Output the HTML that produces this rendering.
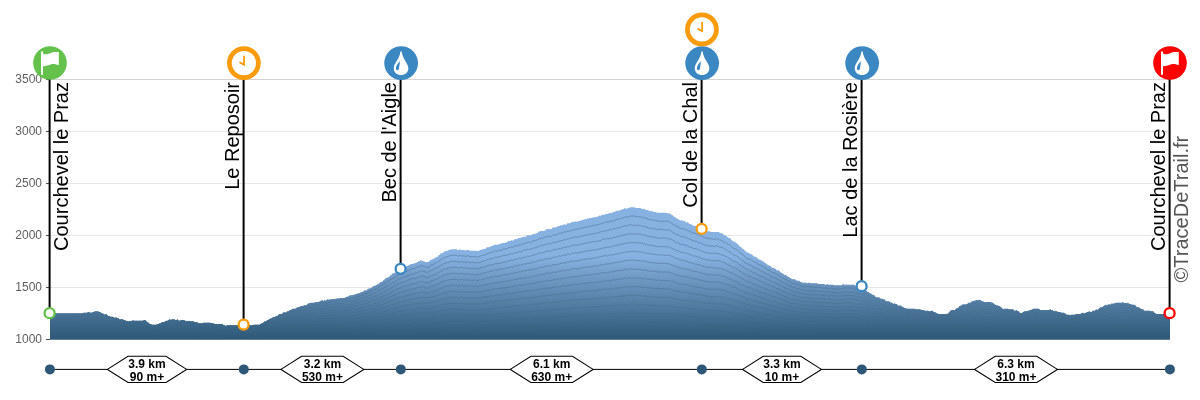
<!DOCTYPE html>
<html><head><meta charset="utf-8"><title>Profil</title>
<style>
html,body{margin:0;padding:0;background:#fff;}
body{width:1200px;height:400px;overflow:hidden;font-family:"Liberation Sans",sans-serif;}
svg{display:block;font-family:"Liberation Sans",sans-serif;opacity:.999;will-change:transform;}
.yl text{font-size:12px;fill:#5e5e5e;}
.lab{font-size:20px;fill:#000;}
.seg{font-size:12px;font-weight:bold;text-anchor:middle;fill:#000;}
.ct path{fill:none;stroke:#2b516f;stroke-opacity:.45;stroke-width:.8;}
</style></head><body>
<svg width="1200" height="400" viewBox="0 0 1200 400">
<defs>
<linearGradient id="g" gradientUnits="userSpaceOnUse" x1="0" y1="200" x2="0" y2="340">
<stop offset="0.0000" stop-color="#87b1e0"/>
<stop offset="0.4000" stop-color="#87b1e0"/>
<stop offset="0.5357" stop-color="#739dc8"/>
<stop offset="0.6786" stop-color="#5d87ae"/>
<stop offset="0.8214" stop-color="#487295"/>
<stop offset="0.9964" stop-color="#2e5876"/>
</linearGradient>
<linearGradient id="c" gradientUnits="userSpaceOnUse" x1="0" y1="200" x2="0" y2="340">
<stop offset="0.0000" stop-color="#87b1e0" stop-opacity="0"/>
<stop offset="0.4000" stop-color="#87b1e0" stop-opacity="0"/>
<stop offset="0.5357" stop-color="#739dc8" stop-opacity="0.12"/>
<stop offset="0.6786" stop-color="#5d87ae" stop-opacity="0.35"/>
<stop offset="0.8214" stop-color="#487295" stop-opacity="0.65"/>
<stop offset="0.9964" stop-color="#2e5876" stop-opacity="1"/>
</linearGradient>
</defs>
<rect width="1200" height="400" fill="#fff"/>
<g><line x1="50" x2="1170" y1="287.5" y2="287.5" stroke="#e6e6e6" stroke-width="1"/>
<line x1="50" x2="1170" y1="235.5" y2="235.5" stroke="#e6e6e6" stroke-width="1"/>
<line x1="50" x2="1170" y1="183.5" y2="183.5" stroke="#e6e6e6" stroke-width="1"/>
<line x1="50" x2="1170" y1="131.5" y2="131.5" stroke="#e6e6e6" stroke-width="1"/>
<line x1="50" x2="1170" y1="79.5" y2="79.5" stroke="#d4d4d4" stroke-width="1"/>
</g>
<g><line x1="46" x2="50" y1="339.5" y2="339.5" stroke="#555" stroke-width="1"/>
<line x1="46" x2="50" y1="287.5" y2="287.5" stroke="#555" stroke-width="1"/>
<line x1="46" x2="50" y1="235.5" y2="235.5" stroke="#555" stroke-width="1"/>
<line x1="46" x2="50" y1="183.5" y2="183.5" stroke="#555" stroke-width="1"/>
<line x1="46" x2="50" y1="131.5" y2="131.5" stroke="#555" stroke-width="1"/>
<line x1="46" x2="50" y1="79.5" y2="79.5" stroke="#555" stroke-width="1"/>
</g>
<g class="yl"><text x="42" y="342.9" text-anchor="end">1000</text>
<text x="42" y="290.9" text-anchor="end">1500</text>
<text x="42" y="238.9" text-anchor="end">2000</text>
<text x="42" y="186.9" text-anchor="end">2500</text>
<text x="42" y="134.9" text-anchor="end">3000</text>
<text x="42" y="82.9" text-anchor="end">3500</text>
</g>
<path d="M50,313.3L82.5,313.3L83.6,312.7L87,312.7L88.1,312L89.2,312L90.3,312.7L91.4,312.7L92.6,312L93.7,312L94.8,311.3L98.2,311.3L99.3,312L100.4,312L101.5,313.3L102.6,313.3L103.8,314L104.9,314.7L106,314L107.1,314.7L108.2,316L109.4,316L110.5,316.7L112.7,316.7L113.8,317.3L115,318L116.1,317.3L117.2,318L118.3,318L119.4,319.3L122.8,319.3L123.9,320L125,320L126.2,321.3L127.3,320.7L128.4,321.3L129.5,321.3L130.6,320.7L131.8,321.3L132.9,320L134,320.7L143,320.7L144.1,320L145.2,320L146.3,321.3L147.4,322L148.6,322.7L149.7,324L150.8,324L151.9,324.7L156.4,324.7L157.5,324L158.6,324L159.8,323.3L160.9,323.3L162,322L164.2,322L165.4,321.3L166.5,320.7L167.6,320.7L168.7,320L169.8,319.3L171,320L172.1,319.3L174.3,319.3L175.4,320L176.6,320L177.7,319.3L178.8,320.7L179.9,320.7L181,320L184.4,320L185.5,321.3L186.6,320.7L187.8,321.3L188.9,320.7L190,321.3L193.4,321.3L194.5,322L196.7,322L197.8,322.7L199,323.3L202.3,323.3L203.4,322.7L210.2,322.7L211.3,323.3L213.5,323.3L214.6,324L222.5,324L223.6,325.3L224.7,325.3L225.8,326L227,325.3L252.7,325.3L253.8,324.7L259.4,324.7L260.6,324L261.7,323.3L262.8,323.3L263.9,322L265,321.3L266.2,321.3L267.3,320L268.4,320L269.5,318.7L270.6,318.7L271.8,318L272.9,317.3L274,317.3L275.1,316.7L276.2,316L277.4,316L278.5,314.7L279.6,314L281.8,314L283,312.7L284.1,312L285.2,312.7L286.3,312L287.4,311.3L288.6,311.3L289.7,310L290.8,310L291.9,309.3L293,308.7L295.3,308.7L296.4,308L297.5,307.3L298.6,307.3L299.8,306.7L300.9,306L303.1,306L304.2,305.3L306.5,305.3L307.6,304L308.7,303.3L309.8,303.3L311,302.7L314.3,302.7L315.4,302L318.8,302L319.9,301.3L321,300.7L322.2,300L323.3,301.3L324.4,300L325.5,300.7L326.6,300L327.8,299.3L328.9,300L330,299.3L332.2,299.3L333.4,298.7L334.5,299.3L335.6,298.7L336.7,298.7L337.8,298L339,298.7L340.1,298L344.6,298L345.7,297.3L346.8,296.7L347.9,296.7L349,296L350.2,295.3L352.4,295.3L353.5,294.7L354.6,294.7L355.8,294L356.9,294L358,293.3L359.1,293.3L360.2,292.7L361.4,292L362.5,292L363.6,291.3L364.7,290L365.8,290.7L367,290L368.1,288.7L369.2,288.7L370.3,288L371.4,288L372.6,286.7L373.7,286L374.8,286L375.9,285.3L377,284.7L378.2,284L379.3,283.3L380.4,282L381.5,282L382.6,281.3L383.8,280L384.9,279.3L386,278L387.1,278L388.2,277.3L389.4,276.7L390.5,275.3L391.6,274.7L392.7,273.3L393.8,273.3L395,272.7L396.1,271.3L397.2,270.7L398.3,270L399.4,270L400.6,269.3L401.7,268.7L402.8,267.3L403.9,268L405,266.7L406.2,266.7L407.3,266L408.4,265.3L409.5,265.3L410.6,264L412.9,264L414,263.3L415.1,263.3L416.2,262.7L417.4,262L418.5,261.3L419.6,261.3L420.7,260L421.8,260.7L423,261.3L424.1,261.3L425.2,262L428.6,262L429.7,260.7L430.8,260L431.9,259.3L433,259.3L434.2,258.7L435.3,257.3L436.4,257.3L437.5,256.7L438.6,255.3L439.8,254.7L440.9,253.3L442,253.3L443.1,252.7L444.2,252L445.4,250.7L446.5,251.3L447.6,250.7L448.7,250L449.8,250L451,249.3L456.6,249.3L457.7,250L458.8,250L459.9,249.3L461,250L464.4,250L465.5,250.7L466.6,250L468.9,250L470,250.7L476.7,250.7L477.8,251.3L479,250.7L480.1,250L481.2,250L482.3,249.3L483.4,249.3L484.6,248.7L485.7,248.7L486.8,247.3L489,247.3L490.2,246.7L491.3,246L492.4,246L493.5,245.3L494.6,244.7L498,244.7L499.1,244L500.2,244L501.4,243.3L502.5,243.3L503.6,242.7L505.8,242.7L507,242L508.1,241.3L509.2,240.7L510.3,241.3L511.4,240L512.6,240.7L513.7,240L514.8,239.3L515.9,238.7L517,239.3L518.2,238L520.4,238L521.5,237.3L522.6,237.3L523.8,236.7L526,236.7L527.1,235.3L531.6,235.3L532.7,234L535,234L536.1,233.3L537.2,233.3L538.3,232L539.4,231.3L540.6,231.3L541.7,230.7L542.8,231.3L543.9,230.7L545,230.7L546.2,229.3L547.3,229.3L548.4,228.7L549.5,229.3L550.6,229.3L551.8,228.7L552.9,227.3L554,227.3L555.1,228L556.2,226.7L557.4,226.7L558.5,226L559.6,226L560.7,225.3L563,225.3L564.1,224L565.2,224.7L566.3,224.7L567.4,223.3L569.7,223.3L570.8,222.7L571.9,222L574.2,222L575.3,221.3L576.4,222L577.5,221.3L578.6,221.3L579.8,220.7L580.9,220.7L582,220L583.1,220L584.2,219.3L586.5,219.3L587.6,218L588.7,218.7L589.8,218L592.1,218L593.2,217.3L595.4,217.3L596.6,216.7L597.7,216.7L598.8,216L599.9,215.3L601,216L602.2,214.7L604.4,214.7L605.5,214L607.8,214L608.9,213.3L610,212.7L611.1,213.3L612.2,212.7L613.4,212L614.5,212L615.6,211.3L616.7,210.7L619,210.7L620.1,210L621.2,210L622.3,209.3L623.4,209.3L624.6,208L625.7,208.7L626.8,208.7L627.9,208L629,208L630.2,207.3L634.6,207.3L635.8,208L640.2,208L641.4,208.7L642.5,208.7L643.6,209.3L644.7,208.7L645.8,210L648.1,210L649.2,211.3L650.3,210.7L651.4,211.3L652.6,211.3L653.7,212L655.9,212L657,212.7L666,212.7L667.1,213.3L669.4,213.3L670.5,214L671.6,214.7L672.7,215.3L673.8,216.7L675,216.7L676.1,218L677.2,218.7L678.3,218.7L679.4,220L680.6,220.7L681.7,220L682.8,221.3L683.9,220.7L685,221.3L686.2,222.7L687.3,222L688.4,222.7L689.5,224L690.6,224L691.8,224.7L692.9,225.3L694,226L696.2,226L697.4,227.3L698.5,227.3L699.6,228L700.7,228L701.8,229.3L703,229.3L704.1,230L705.2,230.7L706.3,230.7L707.4,231.3L709.7,231.3L710.8,232L718.6,232L719.8,232.7L720.9,233.3L722,233.3L723.1,234L724.2,235.3L725.4,235.3L726.5,236L727.6,237.3L728.7,238L729.8,238L731,239.3L732.1,240.7L733.2,241.3L734.3,242L735.4,242L736.6,243.3L737.7,244L738.8,245.3L739.9,246.7L741,246.7L742.2,248.7L743.3,248.7L744.4,250L745.5,251.3L746.6,252L747.8,252.7L748.9,252.7L750,254L751.1,254L752.2,254.7L753.4,256L754.5,256.7L755.6,256.7L756.7,257.3L757.8,258.7L759,259.3L760.1,260L761.2,260L762.3,261.3L763.4,261.3L764.6,262.7L765.7,263.3L766.8,264L767.9,265.3L769,265.3L770.2,266L771.3,266.7L772.4,268L773.5,268L774.6,268.7L775.8,268.7L776.9,270.7L778,270L779.1,270.7L780.2,272L781.4,272.7L782.5,273.3L783.6,274L784.7,275.3L785.8,274.7L787,276L788.1,276.7L789.2,277.3L790.3,278L791.4,278.7L792.6,279.3L794.8,279.3L795.9,280L797,280.7L799.3,280.7L800.4,282L801.5,282L802.6,282.7L806,282.7L807.1,283.3L808.2,282.7L809.4,282.7L810.5,283.3L817.2,283.3L818.3,284L823.9,284L825,284.7L826.2,284.7L827.3,284L828.4,284.7L832.9,284.7L834,285.3L841.8,285.3L843,284L844.1,284.7L854.2,284.7L855.3,286L860.9,286L862,286.7L863.1,287.3L864.2,288.7L865.4,290L866.5,290.7L867.6,292L868.7,292L869.8,293.3L871,293.3L872.1,294.7L873.2,294.7L874.3,295.3L875.4,296.7L876.6,297.3L878.8,297.3L879.9,298L881,298.7L882.2,298.7L883.3,299.3L884.4,299.3L885.5,300.7L886.6,301.3L888.9,301.3L890,302L891.1,302.7L892.2,302.7L893.4,304L894.5,303.3L895.6,304L896.7,304L897.8,305.3L899,306L900.1,305.3L901.2,306L902.3,306.7L903.4,307.3L904.6,308L905.7,308L906.8,308.7L914.6,308.7L915.8,309.3L920.2,309.3L921.4,310L923.6,310L924.7,310.7L928.1,310.7L929.2,311.3L930.3,311.3L931.4,310.7L932.6,310.7L933.7,312L934.8,312L935.9,312.7L937,313.3L938.2,314L947.1,314L948.2,313.3L949.4,312L950.5,310.7L951.6,310L955,310L956.1,308.7L957.2,308L958.3,308L959.4,306L960.6,306L961.7,304.7L962.8,304.7L963.9,304L965,304.7L966.2,304L967.3,304L968.4,302.7L970.6,302.7L971.8,301.3L972.9,301.3L974,300.7L975.1,300.7L976.2,300L980.7,300L981.8,301.3L983,301.3L984.1,302L990.8,302L991.9,302.7L993,302.7L994.2,304L995.3,304.7L996.4,305.3L997.5,305.3L998.6,306L999.8,306L1000.9,307.3L1002,308L1003.1,309.3L1004.2,308.7L1007.6,308.7L1008.7,309.3L1013.2,309.3L1014.3,310.7L1015.4,310.7L1016.6,310L1017.7,311.3L1018.8,311.3L1019.9,312.7L1021,313.3L1022.2,312.7L1023.3,312L1024.4,311.3L1026.6,311.3L1027.8,310.7L1028.9,310.7L1030,310L1031.1,310L1032.2,309.3L1033.4,308.7L1039,308.7L1040.1,310L1049,310L1050.2,309.3L1051.3,310L1052.4,310L1053.5,311.3L1054.6,310.7L1055.8,311.3L1056.9,311.3L1058,312L1060.2,312L1061.4,312.7L1063.6,312.7L1064.7,313.3L1065.8,314L1067,314.7L1069.2,314.7L1070.3,315.3L1071.4,314.7L1074.8,314.7L1075.9,314L1080.4,314L1081.5,313.3L1082.6,312.7L1083.8,313.3L1084.9,313.3L1086,312.7L1087.1,312L1088.2,312L1089.4,311.3L1090.5,312L1091.6,312L1092.7,310.7L1095,310.7L1096.1,309.3L1097.2,310L1098.3,309.3L1099.4,308L1100.6,307.3L1101.7,307.3L1102.8,306.7L1103.9,306L1105,305.3L1106.2,305.3L1107.3,304.7L1108.4,304.7L1109.5,304L1110.6,304.7L1111.8,303.3L1112.9,304L1114,303.3L1115.1,303.3L1116.2,302.7L1121.8,302.7L1123,302L1124.1,303.3L1125.2,302.7L1126.3,303.3L1127.4,302.7L1128.6,303.3L1129.7,304L1130.8,304L1131.9,304.7L1134.2,304.7L1135.3,305.3L1136.4,306.7L1137.5,307.3L1138.6,307.3L1139.8,308L1140.9,308.7L1142,309.3L1143.1,309.3L1144.2,310.7L1149.8,310.7L1151,311.3L1153.2,311.3L1154.3,312.7L1155.4,313.3L1156.6,314L1170,314L1170,339.5L50,339.5Z" fill="url(#g)"/>
<g class="ct"><path d="M50,338L92.6,338L93.7,337.3L98.2,337.3L99.3,338L146.3,338L147.4,338.7L162,338.7L163.1,338L193.4,338L194.5,338.7L195.6,338L196.7,338.7L263.9,338.7L265,338L285.2,338L286.3,337.3L315.4,337.3L316.6,336.7L317.7,337.3L318.8,336.7L360.2,336.7L361.4,336L379.3,336L380.4,335.3L395,335.3L396.1,334.7L417.4,334.7L418.5,334L426.3,334L427.4,334.7L428.6,334L443.1,334L444.2,333.3L507,333.3L508.1,332.7L538.3,332.7L539.4,332L571.9,332L573,331.3L612.2,331.3L613.4,330.7L653.7,330.7L654.8,331.3L655.9,330.7L657,331.3L685,331.3L686.2,332L713,332L714.2,332.7L715.3,332L717.5,332L718.6,332.7L733.2,332.7L734.3,333.3L746.6,333.3L747.8,334L763.4,334L764.6,334.7L779.1,334.7L780.2,335.3L801.5,335.3L802.6,336L868.7,336L869.8,336.7L890,336.7L891.1,337.3L932.6,337.3L933.7,338L949.4,338L950.5,337.3L970.6,337.3L971.8,336.7L988.6,336.7L989.7,337.3L1018.8,337.3L1019.9,338L1022.2,338L1023.3,337.3L1058,337.3L1059.1,338L1088.2,338L1089.4,337.3L1153.2,337.3L1154.3,338L1170,338"/>
<path d="M50,336L107.1,336L108.2,336.7L125,336.7L126.2,337.3L127.3,336.7L128.4,337.3L129.5,337.3L130.6,336.7L131.8,337.3L132.9,336.7L145.2,336.7L146.3,337.3L167.6,337.3L168.7,336.7L184.4,336.7L185.5,337.3L186.6,336.7L187.8,337.3L266.2,337.3L267.3,336.7L277.4,336.7L278.5,336L288.6,336L289.7,335.3L303.1,335.3L304.2,334.7L319.9,334.7L321,334L322.2,334L323.3,334.7L324.4,334L349,334L350.2,333.3L363.6,333.3L364.7,332.7L374.8,332.7L375.9,332L382.6,332L383.8,331.3L389.4,331.3L390.5,330.7L396.1,330.7L397.2,330L406.2,330L407.3,329.3L419.6,329.3L420.7,328.7L421.8,328.7L423,329.3L429.7,329.3L430.8,328.7L437.5,328.7L438.6,328L446.5,328L447.6,327.3L470,327.3L471.1,328L472.2,327.3L473.4,328L474.5,327.3L475.6,327.3L476.7,328L477.8,328L479,327.3L492.4,327.3L493.5,326.7L510.3,326.7L511.4,326L526,326L527.1,325.3L542.8,325.3L543.9,324.7L559.6,324.7L560.7,324L579.8,324L580.9,323.3L598.8,323.3L599.9,322.7L616.7,322.7L617.8,322L619,322.7L620.1,322L648.1,322L649.2,322.7L650.3,322L651.4,322.7L672.7,322.7L673.8,323.3L681.7,323.3L682.8,324L692.9,324L694,324.7L705.2,324.7L706.3,325.3L725.4,325.3L726.5,326L732.1,326L733.2,326.7L738.8,326.7L739.9,327.3L744.4,327.3L745.5,328L752.2,328L753.4,328.7L761.2,328.7L762.3,329.3L769,329.3L770.2,330L778,330L779.1,330.7L785.8,330.7L787,331.3L798.2,331.3L799.3,332L854.2,332L855.3,332.7L865.4,332.7L866.5,333.3L874.3,333.3L875.4,334L885.5,334L886.6,334.7L897.8,334.7L899,335.3L900.1,334.7L901.2,335.3L924.7,335.3L925.8,336L927,335.3L928.1,336L949.4,336L950.5,335.3L960.6,335.3L961.7,334.7L975.1,334.7L976.2,334L980.7,334L981.8,334.7L997.5,334.7L998.6,335.3L1016.6,335.3L1017.7,336L1028.9,336L1030,335.3L1052.4,335.3L1053.5,336L1054.6,335.3L1055.8,336L1093.8,336L1095,335.3L1103.9,335.3L1105,334.7L1135.3,334.7L1136.4,335.3L1144.2,335.3L1145.4,336L1146.5,335.3L1147.6,336L1170,336"/>
<path d="M50,334L102.6,334L103.8,334.7L112.7,334.7L113.8,335.3L125,335.3L126.2,336L131.8,336L132.9,335.3L134,336L143,336L144.1,335.3L145.2,335.3L146.3,336L148.6,336L149.7,336.7L158.6,336.7L159.8,336L167.6,336L168.7,335.3L177.7,335.3L178.8,336L179.9,336L181,335.3L184.4,335.3L185.5,336L213.5,336L214.6,336.7L260.6,336.7L261.7,336L266.2,336L267.3,335.3L274,335.3L275.1,334.7L281.8,334.7L283,334L288.6,334L289.7,333.3L298.6,333.3L299.8,332.7L307.6,332.7L308.7,332L321,332L322.2,331.3L323.3,332L324.4,331.3L325.5,332L326.6,331.3L345.7,331.3L346.8,330.7L356.9,330.7L358,330L363.6,330L364.7,329.3L365.8,330L367,329.3L371.4,329.3L372.6,328.7L378.2,328.7L379.3,328L382.6,328L383.8,327.3L388.2,327.3L389.4,326.7L391.6,326.7L392.7,326L397.2,326L398.3,325.3L403.9,325.3L405,324.7L412.9,324.7L414,324L419.6,324L420.7,323.3L421.8,324L429.7,324L430.8,323.3L436.4,323.3L437.5,322.7L439.8,322.7L440.9,322L447.6,322L448.7,321.3L464.4,321.3L465.5,322L466.6,321.3L468.9,321.3L470,322L479,322L480.1,321.3L489,321.3L490.2,320.7L500.2,320.7L501.4,320L510.3,320L511.4,319.3L512.6,320L513.7,319.3L522.6,319.3L523.8,318.7L535,318.7L536.1,318L545,318L546.2,317.3L555.1,317.3L556.2,316.7L566.3,316.7L567.4,316L580.9,316L582,315.3L595.4,315.3L596.6,314.7L607.8,314.7L608.9,314L619,314L620.1,313.3L648.1,313.3L649.2,314L669.4,314L670.5,314.7L675,314.7L676.1,315.3L679.4,315.3L680.6,316L681.7,315.3L682.8,316L688.4,316L689.5,316.7L696.2,316.7L697.4,317.3L704.1,317.3L705.2,318L722,318L723.1,318.7L726.5,318.7L727.6,319.3L731,319.3L732.1,320L736.6,320L737.7,320.7L741,320.7L742.2,321.3L744.4,321.3L745.5,322L748.9,322L750,322.7L755.6,322.7L756.7,323.3L761.2,323.3L762.3,324L765.7,324L766.8,324.7L771.3,324.7L772.4,325.3L775.8,325.3L776.9,326L778,325.3L779.1,326L782.5,326L783.6,326.7L788.1,326.7L789.2,327.3L795.9,327.3L797,328L817.2,328L818.3,328.7L862,328.7L863.1,329.3L865.4,329.3L866.5,330L871,330L872.1,330.7L875.4,330.7L876.6,331.3L884.4,331.3L885.5,332L892.2,332L893.4,332.7L894.5,332L895.6,332.7L902.3,332.7L903.4,333.3L923.6,333.3L924.7,334L937,334L938.2,334.7L947.1,334.7L948.2,334L950.5,334L951.6,333.3L958.3,333.3L959.4,332.7L967.3,332.7L968.4,332L975.1,332L976.2,331.3L980.7,331.3L981.8,332L993,332L994.2,332.7L999.8,332.7L1000.9,333.3L1013.2,333.3L1014.3,334L1015.4,334L1016.6,333.3L1017.7,334L1028.9,334L1030,333.3L1052.4,333.3L1053.5,334L1064.7,334L1065.8,334.7L1080.4,334.7L1081.5,334L1095,334L1096.1,333.3L1101.7,333.3L1102.8,332.7L1110.6,332.7L1111.8,332L1112.9,332.7L1114,332L1128.6,332L1129.7,332.7L1136.4,332.7L1137.5,333.3L1143.1,333.3L1144.2,334L1155.4,334L1156.6,334.7L1170,334.7"/>
<path d="M50,332.7L82.5,332.7L83.6,332L89.2,332L90.3,332.7L91.4,332L100.4,332L101.5,332.7L107.1,332.7L108.2,333.3L113.8,333.3L115,334L116.1,333.3L117.2,334L125,334L126.2,334.7L148.6,334.7L149.7,335.3L160.9,335.3L162,334.7L167.6,334.7L168.7,334L175.4,334L176.6,334.7L177.7,334L178.8,334.7L182.2,334.7L183.3,334L184.4,334.7L196.7,334.7L197.8,335.3L203.4,335.3L204.6,334.7L205.7,335.3L206.8,335.3L207.9,334.7L209,335.3L222.5,335.3L223.6,336L248.2,336L249.4,335.3L262.8,335.3L263.9,334.7L266.2,334.7L267.3,334L268.4,334.7L269.5,334L271.8,334L272.9,333.3L277.4,333.3L278.5,332.7L283,332.7L284.1,332L289.7,332L290.8,331.3L296.4,331.3L297.5,330.7L304.2,330.7L305.4,330L311,330L312.1,329.3L323.3,329.3L324.4,328.7L325.5,329.3L326.6,328.7L344.6,328.7L345.7,328L352.4,328L353.5,327.3L360.2,327.3L361.4,326.7L365.8,326.7L367,326L371.4,326L372.6,325.3L375.9,325.3L377,324.7L379.3,324.7L380.4,324L382.6,324L383.8,323.3L387.1,323.3L388.2,322.7L390.5,322.7L391.6,322L395,322L396.1,321.3L398.3,321.3L399.4,320.7L401.7,320.7L402.8,320L403.9,320.7L405,320L409.5,320L410.6,319.3L415.1,319.3L416.2,318.7L419.6,318.7L420.7,318L421.8,318.7L429.7,318.7L430.8,318L434.2,318L435.3,317.3L438.6,317.3L439.8,316.7L442,316.7L443.1,316L447.6,316L448.7,315.3L463.3,315.3L464.4,316L481.2,316L482.3,315.3L486.8,315.3L487.9,314.7L493.5,314.7L494.6,314L502.5,314L503.6,313.3L504.7,314L505.8,313.3L513.7,313.3L514.8,312.7L520.4,312.7L521.5,312L531.6,312L532.7,311.3L537.2,311.3L538.3,310.7L545,310.7L546.2,310L551.8,310L552.9,309.3L554,309.3L555.1,310L556.2,309.3L561.8,309.3L563,308.7L570.8,308.7L571.9,308L580.9,308L582,307.3L592.1,307.3L593.2,306.7L601,306.7L602.2,306L611.1,306L612.2,305.3L619,305.3L620.1,304.7L629,304.7L630.2,304L634.6,304L635.8,304.7L645.8,304.7L647,305.3L648.1,304.7L649.2,305.3L655.9,305.3L657,306L658.2,305.3L659.3,306L671.6,306L672.7,306.7L675,306.7L676.1,307.3L678.3,307.3L679.4,308L680.6,308L681.7,307.3L682.8,308L687.3,308L688.4,308.7L691.8,308.7L692.9,309.3L698.5,309.3L699.6,310L704.1,310L705.2,310.7L718.6,310.7L719.8,311.3L724.2,311.3L725.4,312L727.6,312L728.7,312.7L731,312.7L732.1,313.3L735.4,313.3L736.6,314L737.7,314L738.8,314.7L741,314.7L742.2,315.3L744.4,315.3L745.5,316L747.8,316L748.9,316.7L752.2,316.7L753.4,317.3L756.7,317.3L757.8,318L760.1,318L761.2,318.7L763.4,318.7L764.6,319.3L769,319.3L770.2,320L771.3,320L772.4,320.7L775.8,320.7L776.9,321.3L780.2,321.3L781.4,322L785.8,322L787,322.7L789.2,322.7L790.3,323.3L795.9,323.3L797,324L803.8,324L804.9,324.7L806,324L807.1,324.7L834,324.7L835.1,325.3L841.8,325.3L843,324.7L854.2,324.7L855.3,325.3L863.1,325.3L864.2,326L865.4,326L866.5,326.7L868.7,326.7L869.8,327.3L873.2,327.3L874.3,328L878.8,328L879.9,328.7L884.4,328.7L885.5,329.3L892.2,329.3L893.4,330L896.7,330L897.8,330.7L903.4,330.7L904.6,331.3L923.6,331.3L924.7,332L935.9,332L937,332.7L948.2,332.7L949.4,332L951.6,332L952.7,331.3L958.3,331.3L959.4,330.7L960.6,330.7L961.7,330L967.3,330L968.4,329.3L975.1,329.3L976.2,328.7L980.7,328.7L981.8,329.3L990.8,329.3L991.9,330L996.4,330L997.5,330.7L1000.9,330.7L1002,331.3L1013.2,331.3L1014.3,332L1015.4,332L1016.6,331.3L1017.7,332L1019.9,332L1021,332.7L1022.2,332L1028.9,332L1030,331.3L1031.1,332L1032.2,331.3L1052.4,331.3L1053.5,332L1061.4,332L1062.5,332.7L1084.9,332.7L1086,332L1095,332L1096.1,331.3L1099.4,331.3L1100.6,330.7L1106.2,330.7L1107.3,330L1116.2,330L1117.4,329.3L1118.5,330L1120.7,330L1121.8,329.3L1123,329.3L1124.1,330L1134.2,330L1135.3,330.7L1138.6,330.7L1139.8,331.3L1143.1,331.3L1144.2,332L1154.3,332L1155.4,332.7L1170,332.7"/>
<path d="M50,330.7L92.6,330.7L93.7,330L98.2,330L99.3,330.7L102.6,330.7L103.8,331.3L109.4,331.3L110.5,332L117.2,332L118.3,332.7L125,332.7L126.2,333.3L146.3,333.3L147.4,334L148.6,334L149.7,334.7L158.6,334.7L159.8,334L162,334L163.1,333.3L167.6,333.3L168.7,332.7L175.4,332.7L176.6,333.3L177.7,332.7L178.8,333.3L193.4,333.3L194.5,334L195.6,333.3L196.7,334L214.6,334L215.8,334.7L216.9,334L218,334.7L219.1,334.7L220.2,334L221.4,334L222.5,334.7L260.6,334.7L261.7,334L263.9,334L265,333.3L268.4,333.3L269.5,332.7L271.8,332.7L272.9,332L277.4,332L278.5,331.3L279.6,331.3L280.7,330.7L285.2,330.7L286.3,330L290.8,330L291.9,329.3L296.4,329.3L297.5,328.7L299.8,328.7L300.9,328L306.5,328L307.6,327.3L315.4,327.3L316.6,326.7L317.7,327.3L318.8,326.7L323.3,326.7L324.4,326L325.5,326.7L326.6,326.7L327.8,326L341.2,326L342.3,325.3L347.9,325.3L349,324.7L355.8,324.7L356.9,324L360.2,324L361.4,323.3L365.8,323.3L367,322.7L370.3,322.7L371.4,322L373.7,322L374.8,321.3L377,321.3L378.2,320.7L379.3,320.7L380.4,320L383.8,320L384.9,319.3L386,319.3L387.1,318.7L389.4,318.7L390.5,318L391.6,318L392.7,317.3L395,317.3L396.1,316.7L398.3,316.7L399.4,316L401.7,316L402.8,315.3L406.2,315.3L407.3,314.7L410.6,314.7L411.8,314L417.4,314L418.5,313.3L419.6,313.3L420.7,312.7L421.8,313.3L426.3,313.3L427.4,314L428.6,313.3L430.8,313.3L431.9,312.7L434.2,312.7L435.3,312L437.5,312L438.6,311.3L439.8,311.3L440.9,310.7L443.1,310.7L444.2,310L447.6,310L448.7,309.3L463.3,309.3L464.4,310L481.2,310L482.3,309.3L485.7,309.3L486.8,308.7L491.3,308.7L492.4,308L500.2,308L501.4,307.3L507,307.3L508.1,306.7L513.7,306.7L514.8,306L518.2,306L519.3,305.3L520.4,306L521.5,305.3L526,305.3L527.1,304.7L531.6,304.7L532.7,304L538.3,304L539.4,303.3L545,303.3L546.2,302.7L551.8,302.7L552.9,302L558.5,302L559.6,301.3L566.3,301.3L567.4,300.7L571.9,300.7L573,300L580.9,300L582,299.3L591,299.3L592.1,298.7L598.8,298.7L599.9,298L604.4,298L605.5,297.3L612.2,297.3L613.4,296.7L619,296.7L620.1,296L626.8,296L627.9,295.3L640.2,295.3L641.4,296L645.8,296L647,296.7L648.1,296L649.2,296.7L653.7,296.7L654.8,297.3L655.9,296.7L657,297.3L669.4,297.3L670.5,298L672.7,298L673.8,298.7L675,298.7L676.1,299.3L678.3,299.3L679.4,300L685,300L686.2,300.7L689.5,300.7L690.6,301.3L694,301.3L695.1,302L699.6,302L700.7,302.7L704.1,302.7L705.2,303.3L713,303.3L714.2,304L715.3,303.3L717.5,303.3L718.6,304L723.1,304L724.2,304.7L725.4,304.7L726.5,305.3L728.7,305.3L729.8,306L731,306L732.1,306.7L733.2,306.7L734.3,307.3L736.6,307.3L737.7,308L738.8,308L739.9,308.7L741,308.7L742.2,309.3L744.4,309.3L745.5,310L746.6,310L747.8,310.7L750,310.7L751.1,311.3L752.2,311.3L753.4,312L756.7,312L757.8,312.7L759,312.7L760.1,313.3L763.4,313.3L764.6,314L765.7,314L766.8,314.7L770.2,314.7L771.3,315.3L773.5,315.3L774.6,316L775.8,316L776.9,316.7L779.1,316.7L780.2,317.3L783.6,317.3L784.7,318L787,318L788.1,318.7L790.3,318.7L791.4,319.3L795.9,319.3L797,320L801.5,320L802.6,320.7L820.6,320.7L821.7,321.3L860.9,321.3L862,322L863.1,322L864.2,322.7L865.4,322.7L866.5,323.3L868.7,323.3L869.8,324L871,324L872.1,324.7L874.3,324.7L875.4,325.3L878.8,325.3L879.9,326L884.4,326L885.5,326.7L890,326.7L891.1,327.3L895.6,327.3L896.7,328L901.2,328L902.3,328.7L903.4,328.7L904.6,329.3L905.7,328.7L906.8,329.3L920.2,329.3L921.4,330L922.5,329.3L923.6,329.3L924.7,330L932.6,330L933.7,330.7L938.2,330.7L939.3,331.3L941.5,331.3L942.6,330.7L949.4,330.7L950.5,330L952.7,330L953.8,329.3L955,330L956.1,329.3L957.2,329.3L958.3,328.7L959.4,328.7L960.6,328L962.8,328L963.9,327.3L965,328L966.2,328L967.3,327.3L970.6,327.3L971.8,326.7L975.1,326.7L976.2,326L978.5,326L979.6,326.7L980.7,326L981.8,326.7L988.6,326.7L989.7,327.3L994.2,327.3L995.3,328L997.5,328L998.6,328.7L1002,328.7L1003.1,329.3L1013.2,329.3L1014.3,330L1015.4,330L1016.6,329.3L1017.7,330L1018.8,330L1019.9,330.7L1022.2,330.7L1023.3,330L1031.1,330L1032.2,329.3L1040.1,329.3L1041.2,330L1042.3,329.3L1052.4,329.3L1053.5,330L1058,330L1059.1,330.7L1064.7,330.7L1065.8,331.3L1080.4,331.3L1081.5,330.7L1088.2,330.7L1089.4,330L1095,330L1096.1,329.3L1097.2,330L1098.3,329.3L1099.4,329.3L1100.6,328.7L1103.9,328.7L1105,328L1108.4,328L1109.5,327.3L1110.6,328L1111.8,327.3L1128.6,327.3L1129.7,328L1130.8,327.3L1131.9,328L1135.3,328L1136.4,328.7L1139.8,328.7L1140.9,329.3L1143.1,329.3L1144.2,330L1153.2,330L1154.3,330.7L1170,330.7"/>
<path d="M50,329.3L80.2,329.3L81.4,328.7L93.7,328.7L94.8,328L98.2,328L99.3,328.7L102.6,328.7L103.8,329.3L107.1,329.3L108.2,330L109.4,330L110.5,330.7L111.6,330L112.7,330L113.8,330.7L117.2,330.7L118.3,331.3L123.9,331.3L125,332L145.2,332L146.3,332.7L148.6,332.7L149.7,333.3L158.6,333.3L159.8,332.7L164.2,332.7L165.4,332L167.6,332L168.7,331.3L169.8,331.3L171,332L172.1,331.3L175.4,331.3L176.6,332L177.7,331.3L178.8,332L188.9,332L190,332.7L191.1,332L193.4,332L194.5,332.7L197.8,332.7L199,333.3L200.1,333.3L201.2,332.7L202.3,333.3L203.4,332.7L210.2,332.7L211.3,333.3L212.4,332.7L213.5,333.3L222.5,333.3L223.6,334L255,334L256.1,333.3L258.3,333.3L259.4,334L260.6,333.3L261.7,332.7L263.9,332.7L265,332L268.4,332L269.5,331.3L270.6,331.3L271.8,330.7L275.1,330.7L276.2,330L277.4,330L278.5,329.3L281.8,329.3L283,328.7L286.3,328.7L287.4,328L290.8,328L291.9,327.3L295.3,327.3L296.4,326.7L298.6,326.7L299.8,326L306.5,326L307.6,325.3L309.8,325.3L311,324.7L318.8,324.7L319.9,324L323.3,324L324.4,323.3L325.5,324L326.6,324L327.8,323.3L328.9,324L330,323.3L336.7,323.3L337.8,322.7L339,323.3L340.1,322.7L345.7,322.7L346.8,322L352.4,322L353.5,321.3L358,321.3L359.1,320.7L362.5,320.7L363.6,320L367,320L368.1,319.3L369.2,319.3L370.3,318.7L372.6,318.7L373.7,318L375.9,318L377,317.3L378.2,317.3L379.3,316.7L381.5,316.7L382.6,316L383.8,316L384.9,315.3L386,314.7L388.2,314.7L389.4,314L390.5,314L391.6,313.3L393.8,313.3L395,312.7L396.1,312L398.3,312L399.4,311.3L401.7,311.3L402.8,310.7L403.9,310.7L405,310L406.2,310.7L407.3,310L409.5,310L410.6,309.3L414,309.3L415.1,308.7L417.4,308.7L418.5,308L424.1,308L425.2,308.7L428.6,308.7L429.7,308L430.8,308L431.9,307.3L434.2,307.3L435.3,306.7L437.5,306.7L438.6,306L439.8,305.3L442,305.3L443.1,304.7L444.2,304.7L445.4,304L447.6,304L448.7,303.3L457.7,303.3L458.8,304L459.9,303.3L462.2,303.3L463.3,304L481.2,304L482.3,303.3L485.7,303.3L486.8,302.7L489,302.7L490.2,302L494.6,302L495.8,301.3L502.5,301.3L503.6,300.7L507,300.7L508.1,300L513.7,300L514.8,299.3L518.2,299.3L519.3,298.7L520.4,299.3L521.5,298.7L522.6,298.7L523.8,298L531.6,298L532.7,297.3L535,297.3L536.1,296.7L539.4,296.7L540.6,296L545,296L546.2,295.3L551.8,295.3L552.9,294.7L557.4,294.7L558.5,294L563,294L564.1,293.3L569.7,293.3L570.8,292.7L574.2,292.7L575.3,292L576.4,292.7L577.5,292L580.9,292L582,291.3L586.5,291.3L587.6,290.7L588.7,291.3L589.8,291.3L591,290.7L596.6,290.7L597.7,290L601,290L602.2,289.3L608.9,289.3L610,288.7L614.5,288.7L615.6,288L620.1,288L621.2,287.3L623.4,287.3L624.6,286.7L625.7,287.3L626.8,287.3L627.9,286.7L640.2,286.7L641.4,287.3L645.8,287.3L647,288L648.1,287.3L649.2,288L652.6,288L653.7,288.7L668.2,288.7L669.4,289.3L671.6,289.3L672.7,290L673.8,290.7L676.1,290.7L677.2,291.3L678.3,291.3L679.4,292L685,292L686.2,292.7L688.4,292.7L689.5,293.3L691.8,293.3L692.9,294L696.2,294L697.4,294.7L700.7,294.7L701.8,295.3L704.1,295.3L705.2,296L709.7,296L710.8,296.7L720.9,296.7L722,297.3L723.1,297.3L724.2,298L726.5,298L727.6,298.7L729.8,298.7L731,299.3L732.1,300L733.2,300L734.3,300.7L736.6,300.7L737.7,301.3L738.8,302L739.9,302L741,302.7L742.2,303.3L744.4,303.3L745.5,304L746.6,304.7L748.9,304.7L750,305.3L751.1,305.3L752.2,306L753.4,306L754.5,306.7L756.7,306.7L757.8,307.3L759,307.3L760.1,308L763.4,308L764.6,308.7L765.7,308.7L766.8,309.3L767.9,310L770.2,310L771.3,310.7L773.5,310.7L774.6,311.3L775.8,311.3L776.9,312L779.1,312L780.2,312.7L781.4,312.7L782.5,313.3L783.6,313.3L784.7,314L787,314L788.1,314.7L790.3,314.7L791.4,315.3L795.9,315.3L797,316L799.3,316L800.4,316.7L810.5,316.7L811.6,317.3L831.8,317.3L832.9,318L841.8,318L843,317.3L854.2,317.3L855.3,318L860.9,318L862,318.7L863.1,318.7L864.2,319.3L865.4,319.3L866.5,320L867.6,320.7L869.8,320.7L871,321.3L872.1,321.3L873.2,322L875.4,322L876.6,322.7L878.8,322.7L879.9,323.3L884.4,323.3L885.5,324L888.9,324L890,324.7L892.2,324.7L893.4,325.3L894.5,324.7L895.6,325.3L896.7,325.3L897.8,326L901.2,326L902.3,326.7L903.4,326.7L904.6,327.3L905.7,326.7L906.8,327.3L920.2,327.3L921.4,328L922.5,327.3L923.6,327.3L924.7,328L932.6,328L933.7,328.7L937,328.7L938.2,329.3L948.2,329.3L949.4,328.7L950.5,328L952.7,328L953.8,327.3L955,328L956.1,327.3L957.2,327.3L958.3,326.7L959.4,326L960.6,326L961.7,325.3L962.8,326L963.9,325.3L967.3,325.3L968.4,324.7L970.6,324.7L971.8,324L977.4,324L978.5,323.3L979.6,324L983,324L984.1,324.7L993,324.7L994.2,325.3L995.3,325.3L996.4,326L999.8,326L1000.9,326.7L1002,326.7L1003.1,327.3L1013.2,327.3L1014.3,328L1017.7,328L1018.8,328.7L1023.3,328.7L1024.4,328L1025.5,328.7L1026.6,328L1031.1,328L1032.2,327.3L1040.1,327.3L1041.2,328L1043.4,328L1044.6,327.3L1052.4,327.3L1053.5,328L1056.9,328L1058,328.7L1063.6,328.7L1064.7,329.3L1068.1,329.3L1069.2,330L1070.3,330L1071.4,329.3L1072.6,330L1073.7,329.3L1081.5,329.3L1082.6,328.7L1083.8,329.3L1084.9,328.7L1088.2,328.7L1089.4,328L1090.5,328.7L1091.6,328.7L1092.7,328L1095,328L1096.1,327.3L1097.2,328L1098.3,327.3L1099.4,326.7L1102.8,326.7L1103.9,326L1106.2,326L1107.3,325.3L1112.9,325.3L1114,324.7L1125.2,324.7L1126.3,325.3L1127.4,324.7L1128.6,325.3L1134.2,325.3L1135.3,326L1136.4,326.7L1139.8,326.7L1140.9,327.3L1143.1,327.3L1144.2,328L1153.2,328L1154.3,328.7L1155.4,328.7L1156.6,329.3L1170,329.3"/>
<path d="M50,327.3L82.5,327.3L83.6,326.7L89.2,326.7L90.3,327.3L91.4,326.7L100.4,326.7L101.5,327.3L102.6,327.3L103.8,328L107.1,328L108.2,328.7L112.7,328.7L113.8,329.3L118.3,329.3L119.4,330L123.9,330L125,330.7L127.3,330.7L128.4,331.3L129.5,330.7L145.2,330.7L146.3,331.3L148.6,331.3L149.7,332.7L156.4,332.7L157.5,332L160.9,332L162,331.3L164.2,331.3L165.4,330.7L167.6,330.7L168.7,330L169.8,330L171,330.7L172.1,330L174.3,330L175.4,330.7L176.6,330.7L177.7,330L178.8,330.7L188.9,330.7L190,331.3L196.7,331.3L197.8,332L203.4,332L204.6,331.3L209,331.3L210.2,332L216.9,332L218,332.7L219.1,332.7L220.2,332L222.5,332L223.6,332.7L224.7,332.7L225.8,333.3L227,332.7L260.6,332.7L261.7,332L262.8,332L263.9,331.3L266.2,331.3L267.3,330.7L268.4,330.7L269.5,330L270.6,330L271.8,329.3L274,329.3L275.1,328.7L277.4,328.7L278.5,328L279.6,327.3L281.8,327.3L283,326.7L286.3,326.7L287.4,326L290.8,326L291.9,325.3L295.3,325.3L296.4,324.7L298.6,324.7L299.8,324L304.2,324L305.4,323.3L306.5,323.3L307.6,322.7L311,322.7L312.1,322L318.8,322L319.9,321.3L326.6,321.3L327.8,320.7L328.9,321.3L330,320.7L335.6,320.7L336.7,320L337.8,320L339,320.7L340.1,320L345.7,320L346.8,319.3L349,319.3L350.2,318.7L351.3,319.3L352.4,318.7L354.6,318.7L355.8,318L360.2,318L361.4,317.3L363.6,317.3L364.7,316.7L367,316.7L368.1,316L369.2,316L370.3,315.3L371.4,315.3L372.6,314.7L374.8,314.7L375.9,314L377,314L378.2,313.3L379.3,313.3L380.4,312.7L381.5,312.7L382.6,312L383.8,312L384.9,311.3L386,310.7L388.2,310.7L389.4,310L390.5,309.3L391.6,309.3L392.7,308.7L395,308.7L396.1,308L397.2,307.3L398.3,307.3L399.4,306.7L401.7,306.7L402.8,306L403.9,306L405,305.3L407.3,305.3L408.4,304.7L410.6,304.7L411.8,304L415.1,304L416.2,303.3L419.6,303.3L420.7,302.7L424.1,302.7L425.2,303.3L428.6,303.3L429.7,302.7L430.8,302.7L431.9,302L434.2,302L435.3,301.3L436.4,301.3L437.5,300.7L438.6,300L439.8,300L440.9,299.3L442,299.3L443.1,298.7L444.2,298.7L445.4,298L446.5,298.7L447.6,298L449.8,298L451,297.3L456.6,297.3L457.7,298L458.8,298L459.9,297.3L462.2,297.3L463.3,298L481.2,298L482.3,297.3L483.4,297.3L484.6,296.7L489,296.7L490.2,296L493.5,296L494.6,295.3L498,295.3L499.1,294.7L502.5,294.7L503.6,294L507,294L508.1,293.3L513.7,293.3L514.8,292.7L517,292.7L518.2,292L522.6,292L523.8,291.3L526,291.3L527.1,290.7L528.2,290.7L529.4,291.3L530.5,290.7L531.6,290.7L532.7,290L537.2,290L538.3,289.3L540.6,289.3L541.7,288.7L545,288.7L546.2,288L551.8,288L552.9,287.3L555.1,287.3L556.2,286.7L560.7,286.7L561.8,286L563,286L564.1,285.3L565.2,286L566.3,286L567.4,285.3L570.8,285.3L571.9,284.7L574.2,284.7L575.3,284L576.4,284.7L577.5,284.7L578.6,284L580.9,284L582,283.3L586.5,283.3L587.6,282.7L588.7,283.3L589.8,282.7L595.4,282.7L596.6,282L601,282L602.2,281.3L604.4,281.3L605.5,280.7L611.1,280.7L612.2,280L615.6,280L616.7,279.3L620.1,279.3L621.2,278.7L623.4,278.7L624.6,278L625.7,278.7L626.8,278.7L627.9,278L640.2,278L641.4,278.7L645.8,278.7L647,279.3L652.6,279.3L653.7,280L655.9,280L657,280.7L658.2,280L659.3,280L660.4,280.7L669.4,280.7L670.5,281.3L672.7,281.3L673.8,282L675,282L676.1,282.7L677.2,283.3L678.3,283.3L679.4,284L683.9,284L685,284.7L687.3,284.7L688.4,285.3L689.5,285.3L690.6,286L692.9,286L694,286.7L696.2,286.7L697.4,287.3L700.7,287.3L701.8,288L703,288L704.1,288.7L707.4,288.7L708.6,289.3L718.6,289.3L719.8,290L723.1,290L724.2,290.7L725.4,290.7L726.5,291.3L727.6,292L729.8,292L731,292.7L732.1,293.3L733.2,294L735.4,294L736.6,294.7L737.7,295.3L738.8,295.3L739.9,296L741,296L742.2,296.7L743.3,297.3L744.4,297.3L745.5,298.7L747.8,298.7L748.9,299.3L751.1,299.3L752.2,300L753.4,300.7L755.6,300.7L756.7,301.3L757.8,302L759,302L760.1,302.7L762.3,302.7L763.4,303.3L764.6,304L766.8,304L767.9,304.7L769,304.7L770.2,305.3L771.3,305.3L772.4,306L773.5,306L774.6,306.7L775.8,306.7L776.9,307.3L779.1,307.3L780.2,308L781.4,308L782.5,308.7L783.6,308.7L784.7,309.3L785.8,309.3L787,310L788.1,310L789.2,310.7L790.3,310.7L791.4,311.3L794.8,311.3L795.9,312L799.3,312L800.4,312.7L803.8,312.7L804.9,313.3L806,312.7L807.1,313.3L808.2,312.7L809.4,313.3L821.7,313.3L822.8,314L854.2,314L855.3,314.7L862,314.7L863.1,315.3L864.2,316L865.4,316L866.5,316.7L867.6,317.3L868.7,317.3L869.8,318L871,318L872.1,318.7L873.2,318.7L874.3,319.3L875.4,319.3L876.6,320L879.9,320L881,320.7L884.4,320.7L885.5,321.3L886.6,322L887.8,321.3L888.9,321.3L890,322L892.2,322L893.4,322.7L896.7,322.7L897.8,323.3L899,324L900.1,323.3L901.2,324L902.3,324L903.4,324.7L905.7,324.7L906.8,325.3L920.2,325.3L921.4,326L922.5,325.3L923.6,325.3L924.7,326L928.1,326L929.2,326.7L930.3,326L932.6,326L933.7,326.7L935.9,326.7L937,327.3L939.3,327.3L940.4,328L941.5,328L942.6,327.3L948.2,327.3L949.4,326.7L950.5,326L952.7,326L953.8,325.3L955,326L956.1,325.3L957.2,324.7L958.3,324.7L959.4,324L960.6,324L961.7,323.3L962.8,323.3L963.9,322.7L965,323.3L966.2,322.7L967.3,322.7L968.4,322L971.8,322L972.9,321.3L977.4,321.3L978.5,320.7L979.6,321.3L983,321.3L984.1,322L991.9,322L993,322.7L994.2,322.7L995.3,323.3L997.5,323.3L998.6,324L999.8,324L1000.9,324.7L1002,324.7L1003.1,325.3L1013.2,325.3L1014.3,326L1017.7,326L1018.8,326.7L1019.9,326.7L1021,327.3L1022.2,326.7L1025.5,326.7L1026.6,326L1031.1,326L1032.2,325.3L1036.7,325.3L1037.8,324.7L1039,325.3L1040.1,325.3L1041.2,326L1044.6,326L1045.7,325.3L1050.2,325.3L1051.3,326L1052.4,325.3L1053.5,326L1055.8,326L1056.9,326.7L1061.4,326.7L1062.5,327.3L1064.7,327.3L1065.8,328L1074.8,328L1075.9,327.3L1077,328L1078.2,327.3L1079.3,328L1080.4,327.3L1084.9,327.3L1086,326.7L1091.6,326.7L1092.7,326L1095,326L1096.1,325.3L1097.2,326L1098.3,325.3L1099.4,324.7L1101.7,324.7L1102.8,324L1103.9,324L1105,323.3L1106.2,324L1107.3,323.3L1108.4,323.3L1109.5,322.7L1110.6,323.3L1111.8,322.7L1116.2,322.7L1117.4,322L1118.5,322.7L1119.6,322.7L1120.7,322L1123,322L1124.1,322.7L1125.2,322L1126.3,322.7L1128.6,322.7L1129.7,323.3L1130.8,322.7L1131.9,323.3L1135.3,323.3L1136.4,324L1137.5,324.7L1139.8,324.7L1140.9,325.3L1143.1,325.3L1144.2,326L1152.1,326L1153.2,326.7L1154.3,326.7L1155.4,327.3L1170,327.3"/>
<path d="M50,326L61.2,326L62.3,325.3L88.1,325.3L89.2,324.7L90.3,325.3L91.4,325.3L92.6,324.7L100.4,324.7L101.5,325.3L102.6,325.3L103.8,326L107.1,326L108.2,326.7L109.4,326.7L110.5,327.3L113.8,327.3L115,328L118.3,328L119.4,328.7L123.9,328.7L125,329.3L126.2,330L127.3,329.3L128.4,330L129.5,329.3L145.2,329.3L146.3,330L147.4,330L148.6,330.7L149.7,331.3L151.9,331.3L153,332L154.2,331.3L158.6,331.3L159.8,330.7L160.9,330.7L162,330L165.4,330L166.5,329.3L167.6,329.3L168.7,328.7L169.8,328.7L171,329.3L172.1,328.7L174.3,328.7L175.4,329.3L176.6,329.3L177.7,328.7L178.8,329.3L184.4,329.3L185.5,330L186.6,329.3L187.8,330L188.9,329.3L190,330L196.7,330L197.8,330.7L213.5,330.7L214.6,331.3L222.5,331.3L223.6,332L259.4,332L260.6,331.3L261.7,330.7L262.8,330.7L263.9,330L266.2,330L267.3,329.3L268.4,329.3L269.5,328.7L270.6,328.7L271.8,328L274,328L275.1,327.3L277.4,327.3L278.5,326.7L279.6,326L281.8,326L283,325.3L284.1,324.7L285.2,325.3L286.3,324.7L288.6,324.7L289.7,324L290.8,324L291.9,323.3L295.3,323.3L296.4,322.7L297.5,322L299.8,322L300.9,321.3L306.5,321.3L307.6,320.7L308.7,320L314.3,320L315.4,319.3L319.9,319.3L321,318.7L326.6,318.7L327.8,318L328.9,318.7L330,318L335.6,318L336.7,317.3L344.6,317.3L345.7,316.7L347.9,316.7L349,316L352.4,316L353.5,315.3L356.9,315.3L358,314.7L360.2,314.7L361.4,314L363.6,314L364.7,313.3L367,313.3L368.1,312.7L369.2,312.7L370.3,312L371.4,312L372.6,311.3L373.7,311.3L374.8,310.7L377,310.7L378.2,310L379.3,309.3L380.4,308.7L381.5,308.7L382.6,308L383.8,308L384.9,307.3L386,306.7L387.1,306.7L388.2,306L389.4,306L390.5,305.3L391.6,305.3L392.7,304.7L393.8,304.7L395,304L396.1,303.3L397.2,302.7L398.3,302.7L399.4,302L400.6,302L401.7,301.3L403.9,301.3L405,300.7L406.2,300.7L407.3,300L409.5,300L410.6,299.3L412.9,299.3L414,298.7L416.2,298.7L417.4,298L419.6,298L420.7,297.3L424.1,297.3L425.2,298L428.6,298L429.7,297.3L430.8,297.3L431.9,296.7L434.2,296.7L435.3,296L436.4,296L437.5,295.3L438.6,294.7L439.8,294.7L440.9,294L442,293.3L443.1,293.3L444.2,292.7L445.4,292L446.5,292.7L447.6,292L449.8,292L451,291.3L456.6,291.3L457.7,292L458.8,292L459.9,291.3L461,292L462.2,291.3L463.3,292L476.7,292L477.8,292.7L479,292L481.2,292L482.3,291.3L483.4,291.3L484.6,290.7L486.8,290.7L487.9,290L491.3,290L492.4,289.3L494.6,289.3L495.8,288.7L500.2,288.7L501.4,288L505.8,288L507,287.3L508.1,287.3L509.2,286.7L510.3,287.3L511.4,286.7L513.7,286.7L514.8,286L517,286L518.2,285.3L522.6,285.3L523.8,284.7L526,284.7L527.1,284L531.6,284L532.7,283.3L535,283.3L536.1,282.7L537.2,282.7L538.3,282L540.6,282L541.7,281.3L545,281.3L546.2,280.7L551.8,280.7L552.9,280L554,279.3L555.1,280L556.2,279.3L558.5,279.3L559.6,278.7L563,278.7L564.1,278L566.3,278L567.4,277.3L570.8,277.3L571.9,276.7L577.5,276.7L578.6,276L582,276L583.1,275.3L586.5,275.3L587.6,274.7L588.7,275.3L589.8,274.7L592.1,274.7L593.2,274L594.3,274.7L595.4,274L598.8,274L599.9,273.3L601,273.3L602.2,272.7L607.8,272.7L608.9,272L612.2,272L613.4,271.3L615.6,271.3L616.7,270.7L620.1,270.7L621.2,270L623.4,270L624.6,269.3L629,269.3L630.2,268.7L631.3,268.7L632.4,269.3L640.2,269.3L641.4,270L645.8,270L647,270.7L648.1,270.7L649.2,271.3L650.3,270.7L651.4,271.3L655.9,271.3L657,272L669.4,272L670.5,272.7L671.6,272.7L672.7,273.3L673.8,274L675,274L676.1,274.7L677.2,275.3L678.3,275.3L679.4,276L681.7,276L682.8,276.7L683.9,276L685,276.7L686.2,277.3L687.3,276.7L688.4,277.3L689.5,278L691.8,278L692.9,278.7L694,278.7L695.1,279.3L696.2,278.7L697.4,279.3L698.5,280L700.7,280L701.8,280.7L703,280.7L704.1,281.3L707.4,281.3L708.6,282L718.6,282L719.8,282.7L722,282.7L723.1,283.3L724.2,284L725.4,284L726.5,284.7L727.6,284.7L728.7,285.3L729.8,285.3L731,286L732.1,286.7L733.2,287.3L735.4,287.3L736.6,288L737.7,288.7L738.8,289.3L739.9,290L741,290L742.2,290.7L743.3,291.3L744.4,292L745.5,292.7L746.6,292.7L747.8,293.3L748.9,293.3L750,294L751.1,294L752.2,294.7L753.4,294.7L754.5,295.3L755.6,295.3L756.7,296L757.8,296.7L759,296.7L760.1,297.3L762.3,297.3L763.4,298L764.6,298.7L765.7,298.7L766.8,299.3L767.9,300L770.2,300L771.3,300.7L772.4,301.3L774.6,301.3L775.8,302L776.9,302.7L779.1,302.7L780.2,303.3L781.4,304L782.5,304.7L783.6,304.7L784.7,305.3L787,305.3L788.1,306L789.2,306L790.3,306.7L791.4,307.3L794.8,307.3L795.9,308L799.3,308L800.4,308.7L801.5,308.7L802.6,309.3L811.6,309.3L812.7,310L813.8,309.3L816.1,309.3L817.2,310L828.4,310L829.5,310.7L830.6,310L831.8,310L832.9,310.7L841.8,310.7L843,310L853,310L854.2,310.7L860.9,310.7L862,311.3L863.1,312L864.2,312.7L865.4,312.7L866.5,313.3L867.6,314L868.7,314L869.8,314.7L871,314.7L872.1,315.3L873.2,316L874.3,316L875.4,316.7L877.7,316.7L878.8,317.3L879.9,317.3L881,318L884.4,318L885.5,318.7L886.6,319.3L887.8,318.7L888.9,319.3L890,319.3L891.1,320L892.2,320L893.4,320.7L894.5,320L895.6,320.7L896.7,320.7L897.8,321.3L901.2,321.3L902.3,322L903.4,322.7L905.7,322.7L906.8,323.3L920.2,323.3L921.4,324L922.5,324L923.6,323.3L924.7,324L928.1,324L929.2,324.7L930.3,324L932.6,324L933.7,324.7L934.8,325.3L937,325.3L938.2,326L947.1,326L948.2,325.3L949.4,324.7L950.5,324L952.7,324L953.8,323.3L955,324L956.1,323.3L957.2,322.7L958.3,322.7L959.4,322L960.6,321.3L961.7,320.7L962.8,321.3L963.9,320.7L967.3,320.7L968.4,320L970.6,320L971.8,319.3L972.9,319.3L974,318.7L977.4,318.7L978.5,318L979.6,318.7L980.7,318.7L981.8,319.3L983,318.7L984.1,319.3L990.8,319.3L991.9,320L993,320L994.2,320.7L995.3,320.7L996.4,321.3L997.5,321.3L998.6,322L1000.9,322L1002,322.7L1003.1,323.3L1013.2,323.3L1014.3,324L1016.6,324L1017.7,324.7L1018.8,324.7L1019.9,325.3L1022.2,325.3L1023.3,324.7L1025.5,324.7L1026.6,324L1031.1,324L1032.2,323.3L1036.7,323.3L1037.8,322.7L1039,323.3L1040.1,323.3L1041.2,324L1046.8,324L1047.9,323.3L1050.2,323.3L1051.3,324L1052.4,323.3L1053.5,324L1054.6,324L1055.8,324.7L1060.2,324.7L1061.4,325.3L1064.7,325.3L1065.8,326L1067,326L1068.1,326.7L1070.3,326.7L1071.4,326L1072.6,326.7L1073.7,326L1074.8,326.7L1075.9,326L1081.5,326L1082.6,325.3L1086,325.3L1087.1,324.7L1091.6,324.7L1092.7,324L1095,324L1096.1,323.3L1097.2,324L1098.3,323.3L1099.4,322.7L1100.6,322.7L1101.7,322L1103.9,322L1105,321.3L1106.2,321.3L1107.3,320.7L1110.6,320.7L1111.8,320L1112.9,320.7L1114,320L1121.8,320L1123,319.3L1124.1,320L1128.6,320L1129.7,320.7L1133,320.7L1134.2,321.3L1135.3,321.3L1136.4,322L1137.5,322L1138.6,322.7L1139.8,322.7L1140.9,323.3L1143.1,323.3L1144.2,324L1149.8,324L1151,324.7L1153.2,324.7L1154.3,325.3L1155.4,325.3L1156.6,326L1170,326"/>
<path d="M50,324L82.5,324L83.6,323.3L92.6,323.3L93.7,322.7L98.2,322.7L99.3,323.3L100.4,323.3L101.5,324L102.6,324L103.8,324.7L104.9,324.7L106,324L107.1,324.7L108.2,325.3L109.4,325.3L110.5,326L111.6,325.3L112.7,325.3L113.8,326L115,326.7L118.3,326.7L119.4,327.3L123.9,327.3L125,328L126.2,328.7L127.3,328L128.4,328.7L129.5,328.7L130.6,328L131.8,328.7L132.9,328L145.2,328L146.3,328.7L147.4,329.3L148.6,329.3L149.7,330.7L156.4,330.7L157.5,330L159.8,330L160.9,329.3L162,329.3L163.1,328.7L165.4,328.7L166.5,328L168.7,328L169.8,327.3L171,328L172.1,327.3L174.3,327.3L175.4,328L176.6,328L177.7,327.3L178.8,328L184.4,328L185.5,328.7L186.6,328L187.8,328.7L193.4,328.7L194.5,329.3L195.6,328.7L196.7,329.3L197.8,329.3L199,330L200.1,330L201.2,329.3L202.3,330L203.4,329.3L210.2,329.3L211.3,330L212.4,329.3L213.5,330L218,330L219.1,330.7L220.2,330L222.5,330L223.6,330.7L224.7,330.7L225.8,331.3L227,330.7L228.1,330.7L229.2,331.3L242.6,331.3L243.8,330.7L259.4,330.7L260.6,330L261.7,330L262.8,329.3L263.9,329.3L265,328.7L266.2,328.7L267.3,328L268.4,328L269.5,327.3L270.6,327.3L271.8,326.7L272.9,326L275.1,326L276.2,325.3L277.4,325.3L278.5,324.7L279.6,324L281.8,324L283,323.3L285.2,323.3L286.3,322.7L288.6,322.7L289.7,322L290.8,322L291.9,321.3L295.3,321.3L296.4,320.7L297.5,320L298.6,320L299.8,319.3L304.2,319.3L305.4,318.7L306.5,318.7L307.6,318L309.8,318L311,317.3L315.4,317.3L316.6,316.7L317.7,317.3L318.8,316.7L319.9,316.7L321,316L322.2,316L323.3,316.7L324.4,316L326.6,316L327.8,315.3L328.9,316L330,315.3L332.2,315.3L333.4,314.7L334.5,315.3L335.6,314.7L344.6,314.7L345.7,314L346.8,313.3L349,313.3L350.2,312.7L351.3,313.3L352.4,313.3L353.5,312.7L354.6,312.7L355.8,312L358,312L359.1,311.3L360.2,311.3L361.4,310.7L363.6,310.7L364.7,310L367,310L368.1,309.3L369.2,308.7L371.4,308.7L372.6,308L373.7,307.3L374.8,307.3L375.9,306.7L377,306.7L378.2,306L379.3,306L380.4,304.7L382.6,304.7L383.8,304L384.9,303.3L386,302.7L387.1,302.7L388.2,302L389.4,302L390.5,300.7L391.6,300.7L392.7,300L393.8,300L395,299.3L396.1,298.7L397.2,298L398.3,298L399.4,297.3L400.6,297.3L401.7,296.7L402.8,296L403.9,296.7L405,296L406.2,296L407.3,295.3L409.5,295.3L410.6,294.7L411.8,294L415.1,294L416.2,293.3L417.4,293.3L418.5,292.7L419.6,292.7L420.7,292L421.8,292L423,292.7L426.3,292.7L427.4,293.3L428.6,292.7L429.7,292.7L430.8,292L431.9,291.3L434.2,291.3L435.3,290L437.5,290L438.6,289.3L439.8,288.7L440.9,288L442,288L443.1,287.3L444.2,286.7L445.4,286L446.5,286.7L447.6,286L449.8,286L451,285.3L456.6,285.3L457.7,286L458.8,286L459.9,285.3L461,286L462.2,285.3L463.3,286L472.2,286L473.4,286.7L474.5,286L476.7,286L477.8,286.7L479,286L481.2,286L482.3,285.3L483.4,285.3L484.6,284.7L486.8,284.7L487.9,284L490.2,284L491.3,283.3L493.5,283.3L494.6,282.7L498,282.7L499.1,282L502.5,282L503.6,281.3L507,281.3L508.1,280.7L510.3,280.7L511.4,280L513.7,280L514.8,279.3L517,279.3L518.2,278.7L520.4,278.7L521.5,278L522.6,278.7L523.8,278L526,278L527.1,277.3L530.5,277.3L531.6,276.7L532.7,276L536.1,276L537.2,275.3L538.3,275.3L539.4,274.7L540.6,274.7L541.7,274L542.8,274.7L543.9,274L545,274L546.2,273.3L550.6,273.3L551.8,272.7L552.9,272L554,272L555.1,272.7L556.2,272L557.4,272L558.5,271.3L560.7,271.3L561.8,270.7L563,270.7L564.1,270L565.2,270.7L566.3,270.7L567.4,270L569.7,270L570.8,269.3L571.9,269.3L573,268.7L579.8,268.7L580.9,268L582,268L583.1,267.3L586.5,267.3L587.6,266.7L588.7,267.3L589.8,266.7L592.1,266.7L593.2,266L597.7,266L598.8,265.3L601,265.3L602.2,264.7L604.4,264.7L605.5,264L608.9,264L610,263.3L611.1,264L612.2,263.3L613.4,262.7L616.7,262.7L617.8,262L620.1,262L621.2,261.3L623.4,261.3L624.6,260.7L629,260.7L630.2,260L634.6,260L635.8,260.7L640.2,260.7L641.4,261.3L642.5,260.7L643.6,261.3L645.8,261.3L647,262L648.1,262L649.2,262.7L650.3,262L651.4,262.7L653.7,262.7L654.8,263.3L655.9,262.7L657,263.3L666,263.3L667.1,264L668.2,263.3L669.4,264L670.5,264.7L671.6,264.7L672.7,265.3L673.8,266L675,266L676.1,266.7L677.2,267.3L678.3,266.7L679.4,268L681.7,268L682.8,268.7L685,268.7L686.2,269.3L688.4,269.3L689.5,270L690.6,270L691.8,270.7L692.9,271.3L696.2,271.3L697.4,272L698.5,272L699.6,272.7L700.7,272.7L701.8,273.3L703,273.3L704.1,274L706.3,274L707.4,274.7L713,274.7L714.2,275.3L715.3,274.7L717.5,274.7L718.6,275.3L719.8,275.3L720.9,276L723.1,276L724.2,276.7L725.4,277.3L726.5,277.3L727.6,278L728.7,278.7L729.8,278.7L731,279.3L732.1,280L733.2,280.7L734.3,281.3L736.6,281.3L737.7,282L738.8,283.3L739.9,284L741,284L742.2,284.7L743.3,285.3L744.4,286L745.5,286.7L746.6,286.7L747.8,287.3L748.9,287.3L750,288L751.1,288L752.2,288.7L753.4,289.3L754.5,290L756.7,290L757.8,291.3L759,291.3L760.1,292L761.2,292L762.3,292.7L763.4,292.7L764.6,293.3L765.7,293.3L766.8,294L767.9,294.7L769,294.7L770.2,295.3L771.3,296L772.4,296.7L774.6,296.7L775.8,297.3L776.9,298L779.1,298L780.2,299.3L781.4,299.3L782.5,300L783.6,300L784.7,300.7L785.8,300.7L787,301.3L788.1,302L789.2,302L790.3,302.7L791.4,303.3L794.8,303.3L795.9,304L799.3,304L800.4,304.7L801.5,304.7L802.6,305.3L809.4,305.3L810.5,306L821.7,306L822.8,306.7L823.9,306L825,306.7L835.1,306.7L836.2,307.3L838.5,307.3L839.6,306.7L840.7,307.3L841.8,307.3L843,306.7L854.2,306.7L855.3,307.3L860.9,307.3L862,308L863.1,308L864.2,308.7L865.4,310L866.5,310L867.6,310.7L868.7,310.7L869.8,311.3L871,312L872.1,312.7L873.2,312.7L874.3,313.3L875.4,313.3L876.6,314L877.7,314L878.8,314.7L879.9,314.7L881,315.3L884.4,315.3L885.5,316L886.6,316.7L890,316.7L891.1,317.3L892.2,317.3L893.4,318L896.7,318L897.8,318.7L899,319.3L901.2,319.3L902.3,320L903.4,320L904.6,320.7L907.9,320.7L909,321.3L920.2,321.3L921.4,322L922.5,322L923.6,321.3L924.7,322L928.1,322L929.2,322.7L932.6,322.7L933.7,323.3L935.9,323.3L937,324L939.3,324L940.4,324.7L941.5,324L948.2,324L949.4,323.3L950.5,322L952.7,322L953.8,321.3L955,322L956.1,321.3L957.2,320.7L958.3,320.7L959.4,319.3L960.6,319.3L961.7,318.7L962.8,318.7L963.9,318L965,318.7L966.2,318L967.3,318L968.4,317.3L970.6,317.3L971.8,316.7L972.9,316.7L974,316L977.4,316L978.5,315.3L979.6,316L980.7,316L981.8,316.7L988.6,316.7L989.7,317.3L993,317.3L994.2,318L995.3,318.7L997.5,318.7L998.6,319.3L999.8,319.3L1000.9,320L1002,320.7L1003.1,321.3L1005.4,321.3L1006.5,320.7L1007.6,321.3L1013.2,321.3L1014.3,322L1016.6,322L1017.7,322.7L1018.8,322.7L1019.9,323.3L1021,324L1022.2,323.3L1023.3,322.7L1026.6,322.7L1027.8,322L1028.9,322.7L1030,322L1031.1,322L1032.2,321.3L1036.7,321.3L1037.8,320.7L1039,321.3L1040.1,321.3L1041.2,322L1046.8,322L1047.9,321.3L1050.2,321.3L1051.3,322L1052.4,322L1053.5,322.7L1054.6,322L1055.8,322.7L1058,322.7L1059.1,323.3L1063.6,323.3L1064.7,324L1065.8,324L1067,324.7L1074.8,324.7L1075.9,324L1078.2,324L1079.3,324.7L1080.4,324L1081.5,324L1082.6,323.3L1083.8,324L1084.9,324L1086,323.3L1088.2,323.3L1089.4,322.7L1092.7,322.7L1093.8,322L1095,322L1096.1,321.3L1097.2,322L1098.3,321.3L1099.4,320.7L1100.6,320L1102.8,320L1103.9,319.3L1105,318.7L1106.2,319.3L1107.3,318.7L1108.4,318.7L1109.5,318L1110.6,318.7L1111.8,318L1114,318L1115.1,317.3L1125.2,317.3L1126.3,318L1127.4,317.3L1128.6,318L1130.8,318L1131.9,318.7L1134.2,318.7L1135.3,319.3L1136.4,320L1138.6,320L1139.8,320.7L1140.9,321.3L1143.1,321.3L1144.2,322L1145.4,322.7L1146.5,322L1147.6,322L1148.7,322.7L1153.2,322.7L1154.3,323.3L1155.4,324L1170,324"/>
<path d="M50,322L82.5,322L83.6,321.3L89.2,321.3L90.3,322L91.4,321.3L92.6,321.3L93.7,320.7L98.2,320.7L99.3,321.3L100.4,321.3L101.5,322L102.6,322L103.8,322.7L106,322.7L107.1,323.3L108.2,324L112.7,324L113.8,324.7L115,325.3L116.1,324.7L117.2,324.7L118.3,325.3L119.4,326L123.9,326L125,326.7L126.2,327.3L127.3,326.7L128.4,327.3L129.5,327.3L130.6,326.7L131.8,327.3L132.9,326.7L145.2,326.7L146.3,327.3L147.4,328L148.6,328L149.7,329.3L151.9,329.3L153,330L154.2,329.3L158.6,329.3L159.8,328.7L160.9,328.7L162,328L163.1,327.3L164.2,328L165.4,327.3L167.6,327.3L168.7,326.7L169.8,326L171,326.7L172.1,326L174.3,326L175.4,326.7L176.6,326.7L177.7,326L178.8,326.7L184.4,326.7L185.5,327.3L186.6,326.7L187.8,327.3L193.4,327.3L194.5,328L196.7,328L197.8,328.7L203.4,328.7L204.6,328L209,328L210.2,328.7L213.5,328.7L214.6,329.3L222.5,329.3L223.6,330L259.4,330L260.6,329.3L261.7,328.7L262.8,328.7L263.9,328L265,327.3L266.2,327.3L267.3,326.7L268.4,326.7L269.5,326L270.6,326L271.8,325.3L272.9,324.7L274,324.7L275.1,324L277.4,324L278.5,323.3L279.6,322.7L280.7,322.7L281.8,322L283,321.3L286.3,321.3L287.4,320.7L288.6,320.7L289.7,320L290.8,320L291.9,319.3L294.2,319.3L295.3,318.7L296.4,318.7L297.5,318L298.6,318L299.8,317.3L303.1,317.3L304.2,316.7L306.5,316.7L307.6,316L308.7,315.3L311,315.3L312.1,314.7L315.4,314.7L316.6,314L317.7,314.7L318.8,314.7L319.9,314L321,313.3L322.2,313.3L323.3,314L324.4,313.3L326.6,313.3L327.8,312.7L328.9,313.3L330,312.7L332.2,312.7L333.4,312L334.5,312.7L335.6,312L343.4,312L344.6,311.3L345.7,311.3L346.8,310.7L349,310.7L350.2,310L352.4,310L353.5,309.3L356.9,309.3L358,308.7L359.1,308.7L360.2,308L362.5,308L363.6,307.3L364.7,306.7L367,306.7L368.1,306L369.2,305.3L371.4,305.3L372.6,304L374.8,304L375.9,303.3L377,303.3L378.2,302L379.3,302L380.4,301.3L381.5,300.7L382.6,300.7L383.8,300L384.9,299.3L386,298.7L387.1,298.7L388.2,298L389.4,297.3L390.5,296.7L391.6,296.7L392.7,295.3L395,295.3L396.1,294L397.2,293.3L398.3,293.3L399.4,292.7L400.6,292.7L401.7,292L402.8,291.3L403.9,292L405,290.7L406.2,291.3L407.3,290L409.5,290L410.6,289.3L411.8,289.3L412.9,288.7L415.1,288.7L416.2,288L417.4,288L418.5,287.3L419.6,287.3L420.7,286.7L421.8,286.7L423,287.3L424.1,287.3L425.2,288L428.6,288L429.7,287.3L430.8,286.7L431.9,286L434.2,286L435.3,284.7L437.5,284.7L438.6,283.3L439.8,283.3L440.9,282L442,282L443.1,281.3L444.2,281.3L445.4,280.7L446.5,280.7L447.6,280L449.8,280L451,279.3L456.6,279.3L457.7,280L458.8,280L459.9,279.3L461,280L462.2,279.3L463.3,280L470,280L471.1,280.7L472.2,280L473.4,280.7L474.5,280L475.6,280L476.7,280.7L477.8,280.7L479,280L481.2,280L482.3,279.3L483.4,279.3L484.6,278.7L485.7,278.7L486.8,278L489,278L490.2,277.3L492.4,277.3L493.5,276.7L494.6,276.7L495.8,276L496.9,276.7L498,276L500.2,276L501.4,275.3L502.5,275.3L503.6,274.7L507,274.7L508.1,274L510.3,274L511.4,273.3L513.7,273.3L514.8,272.7L517,272.7L518.2,272L520.4,272L521.5,271.3L522.6,271.3L523.8,270.7L526,270.7L527.1,270L531.6,270L532.7,269.3L535,269.3L536.1,268.7L537.2,268.7L538.3,268L539.4,267.3L542.8,267.3L543.9,266.7L545,266.7L546.2,266L550.6,266L551.8,265.3L552.9,264.7L557.4,264.7L558.5,264L559.6,264L560.7,263.3L563,263.3L564.1,262.7L566.3,262.7L567.4,262L569.7,262L570.8,261.3L574.2,261.3L575.3,260.7L576.4,261.3L577.5,260.7L579.8,260.7L580.9,260L582,260L583.1,259.3L586.5,259.3L587.6,258.7L592.1,258.7L593.2,258L595.4,258L596.6,257.3L598.8,257.3L599.9,256.7L601,256.7L602.2,256L604.4,256L605.5,255.3L606.6,256L607.8,256L608.9,255.3L610,254.7L611.1,255.3L612.2,254.7L614.5,254.7L615.6,254L616.7,254L617.8,253.3L619,254L620.1,253.3L621.2,252.7L623.4,252.7L624.6,252L629,252L630.2,251.3L634.6,251.3L635.8,252L636.9,251.3L638,252L642.5,252L643.6,252.7L644.7,252.7L645.8,253.3L648.1,253.3L649.2,254L650.3,253.3L651.4,254L653.7,254L654.8,254.7L655.9,254L657,255.3L658.2,254.7L659.3,254.7L660.4,255.3L661.5,254.7L662.6,254.7L663.8,255.3L669.4,255.3L670.5,256L671.6,256L672.7,256.7L673.8,257.3L675,258L676.1,258.7L678.3,258.7L679.4,260L681.7,260L682.8,260.7L685,260.7L686.2,261.3L687.3,261.3L688.4,262L689.5,262.7L691.8,262.7L692.9,263.3L694,264L696.2,264L697.4,264.7L699.6,264.7L700.7,265.3L701.8,266L703,266L704.1,266.7L705.2,266.7L706.3,267.3L711.9,267.3L713,268L718.6,268L719.8,268.7L722,268.7L723.1,269.3L724.2,270L725.4,270L726.5,270.7L727.6,271.3L728.7,272L729.8,272L731,272.7L732.1,273.3L733.2,274L734.3,274.7L735.4,274.7L736.6,275.3L737.7,276L738.8,276.7L739.9,277.3L741,278L742.2,278.7L743.3,279.3L744.4,280L745.5,280.7L746.6,281.3L747.8,281.3L748.9,282L750,282L751.1,282.7L752.2,283.3L753.4,284L754.5,284.7L755.6,284L756.7,284.7L757.8,286L759,286L760.1,286.7L761.2,286.7L762.3,287.3L763.4,287.3L764.6,288.7L765.7,288.7L766.8,289.3L767.9,290L769,290L770.2,290.7L771.3,291.3L772.4,291.3L773.5,292L774.6,292L775.8,292.7L776.9,293.3L778,293.3L779.1,294L780.2,294.7L781.4,294.7L782.5,295.3L783.6,296L784.7,296.7L785.8,296.7L787,297.3L788.1,298L789.2,298L790.3,298.7L791.4,299.3L794.8,299.3L795.9,300L798.2,300L799.3,300.7L800.4,301.3L803.8,301.3L804.9,302L806,301.3L807.1,302L808.2,301.3L809.4,302L818.3,302L819.4,302.7L820.6,302L821.7,302.7L828.4,302.7L829.5,303.3L830.6,302.7L831.8,302.7L832.9,303.3L841.8,303.3L843,302.7L853,302.7L854.2,303.3L855.3,304L862,304L863.1,304.7L864.2,305.3L865.4,306.7L866.5,307.3L867.6,308L868.7,308L869.8,308.7L871,308.7L872.1,309.3L873.2,310L874.3,310L875.4,310.7L876.6,311.3L878.8,311.3L879.9,312L881,312.7L884.4,312.7L885.5,313.3L886.6,314L890,314L891.1,314.7L892.2,314.7L893.4,316L894.5,315.3L895.6,316L896.7,316L897.8,316.7L899,317.3L900.1,316.7L901.2,317.3L902.3,318L903.4,318L904.6,318.7L909,318.7L910.2,319.3L920.2,319.3L921.4,320L924.7,320L925.8,320.7L927,320L928.1,320.7L932.6,320.7L933.7,321.3L935.9,321.3L937,322L938.2,322L939.3,322.7L947.1,322.7L948.2,322L949.4,321.3L950.5,320L952.7,320L953.8,319.3L955,320L956.1,319.3L957.2,318.7L958.3,318.7L959.4,317.3L960.6,317.3L961.7,316L962.8,316.7L963.9,316L966.2,316L967.3,315.3L968.4,314.7L970.6,314.7L971.8,314L975.1,314L976.2,313.3L977.4,313.3L978.5,312.7L979.6,313.3L980.7,313.3L981.8,314L988.6,314L989.7,314.7L991.9,314.7L993,315.3L994.2,315.3L995.3,316L996.4,316.7L997.5,316.7L998.6,317.3L999.8,317.3L1000.9,318L1002,318.7L1003.1,319.3L1005.4,319.3L1006.5,318.7L1007.6,319.3L1013.2,319.3L1014.3,320L1016.6,320L1017.7,320.7L1018.8,320.7L1019.9,321.3L1021,322L1022.2,321.3L1023.3,321.3L1024.4,320.7L1028.9,320.7L1030,320L1031.1,320L1032.2,319.3L1033.4,318.7L1039,318.7L1040.1,319.3L1041.2,320L1047.9,320L1049,319.3L1050.2,319.3L1051.3,320L1052.4,320L1053.5,320.7L1054.6,320L1055.8,320.7L1056.9,320.7L1058,321.3L1061.4,321.3L1062.5,322L1063.6,321.3L1064.7,322L1065.8,322.7L1067,323.3L1070.3,323.3L1071.4,322.7L1072.6,323.3L1074.8,323.3L1075.9,322.7L1080.4,322.7L1081.5,322L1084.9,322L1086,321.3L1088.2,321.3L1089.4,320.7L1090.5,321.3L1091.6,321.3L1092.7,320.7L1093.8,320.7L1095,320L1096.1,319.3L1097.2,320L1098.3,319.3L1099.4,318.7L1100.6,318L1102.8,318L1103.9,317.3L1105,316.7L1106.2,316.7L1107.3,316L1110.6,316L1111.8,315.3L1112.9,316L1114,315.3L1116.2,315.3L1117.4,314.7L1118.5,315.3L1119.6,315.3L1120.7,314.7L1123,314.7L1124.1,315.3L1125.2,314.7L1126.3,315.3L1128.6,315.3L1129.7,316L1133,316L1134.2,316.7L1135.3,316.7L1136.4,317.3L1137.5,318L1139.8,318L1140.9,319.3L1143.1,319.3L1144.2,320L1145.4,320.7L1146.5,320L1147.6,320.7L1153.2,320.7L1154.3,321.3L1155.4,322L1170,322"/>
<path d="M50,320.7L80.2,320.7L81.4,320L82.5,320L83.6,319.3L89.2,319.3L90.3,320L91.4,320L92.6,319.3L93.7,319.3L94.8,318.7L98.2,318.7L99.3,319.3L100.4,319.3L101.5,320L102.6,320L103.8,320.7L104.9,321.3L106,320.7L107.1,321.3L108.2,322L109.4,322L110.5,322.7L112.7,322.7L113.8,323.3L117.2,323.3L118.3,324L119.4,324.7L123.9,324.7L125,325.3L126.2,326L129.5,326L130.6,325.3L131.8,326L132.9,325.3L145.2,325.3L146.3,326.7L148.6,326.7L149.7,328L150.8,328.7L156.4,328.7L157.5,328L158.6,328L159.8,327.3L160.9,327.3L162,326.7L164.2,326.7L165.4,326L167.6,326L168.7,325.3L169.8,324.7L171,325.3L172.1,324.7L174.3,324.7L175.4,325.3L176.6,325.3L177.7,324.7L178.8,325.3L184.4,325.3L185.5,326L188.9,326L190,326.7L191.1,326L193.4,326L194.5,326.7L196.7,326.7L197.8,327.3L199,328L200.1,328L201.2,327.3L202.3,328L203.4,327.3L206.8,327.3L207.9,326.7L209,327.3L213.5,327.3L214.6,328L222.5,328L223.6,329.3L247.1,329.3L248.2,328.7L259.4,328.7L260.6,328L261.7,327.3L262.8,327.3L263.9,326.7L265,326.7L266.2,326L267.3,325.3L268.4,325.3L269.5,324L270.6,324.7L271.8,324L272.9,323.3L274,323.3L275.1,322.7L276.2,322.7L277.4,322L278.5,321.3L279.6,320.7L281.8,320.7L283,320L284.1,319.3L285.2,320L286.3,319.3L287.4,318.7L288.6,318.7L289.7,318L290.8,318L291.9,317.3L294.2,317.3L295.3,316.7L296.4,316.7L297.5,316L298.6,316L299.8,315.3L300.9,314.7L304.2,314.7L305.4,314L306.5,314L307.6,313.3L309.8,313.3L311,312.7L314.3,312.7L315.4,312L318.8,312L319.9,311.3L321,310.7L322.2,310.7L323.3,311.3L324.4,310.7L326.6,310.7L327.8,310L328.9,310.7L330,310L332.2,310L333.4,309.3L334.5,310L335.6,309.3L342.3,309.3L343.4,308.7L345.7,308.7L346.8,308L347.9,308L349,307.3L352.4,307.3L353.5,306.7L354.6,306.7L355.8,306L356.9,306L358,305.3L360.2,305.3L361.4,304.7L362.5,304.7L363.6,304L364.7,303.3L365.8,304L367,303.3L368.1,302.7L369.2,302L370.3,302L371.4,301.3L372.6,300.7L373.7,300.7L374.8,300L375.9,300L377,299.3L378.2,298.7L379.3,298L380.4,297.3L381.5,297.3L382.6,296.7L383.8,296L384.9,295.3L386,294.7L387.1,294.7L388.2,294L389.4,293.3L390.5,292.7L391.6,292L392.7,291.3L393.8,291.3L395,290.7L396.1,290L397.2,288.7L398.3,288.7L399.4,288L400.6,288L401.7,287.3L402.8,286.7L403.9,286.7L405,286L406.2,286L407.3,285.3L409.5,285.3L410.6,284L414,284L415.1,283.3L416.2,283.3L417.4,282.7L418.5,282L419.6,282L420.7,281.3L421.8,281.3L423,282L424.1,282L425.2,282.7L428.6,282.7L429.7,282L430.8,281.3L431.9,280.7L433,280.7L434.2,280L435.3,279.3L436.4,279.3L437.5,278.7L438.6,278L439.8,277.3L440.9,276.7L442,276L443.1,276L444.2,275.3L445.4,274.7L446.5,274.7L447.6,274L449.8,274L451,273.3L456.6,273.3L457.7,274L458.8,274L459.9,273.3L461,274L462.2,273.3L463.3,274L470,274L471.1,274.7L472.2,274L473.4,274.7L474.5,274L475.6,274.7L479,274.7L480.1,274L481.2,274L482.3,273.3L483.4,273.3L484.6,272.7L485.7,272.7L486.8,272L489,272L490.2,271.3L491.3,271.3L492.4,270.7L493.5,270.7L494.6,270L498,270L499.1,269.3L502.5,269.3L503.6,268L504.7,268.7L505.8,268L507,268L508.1,267.3L510.3,267.3L511.4,266.7L512.6,267.3L513.7,266.7L514.8,266L517,266L518.2,265.3L519.3,264.7L520.4,265.3L521.5,264.7L522.6,264.7L523.8,264L526,264L527.1,263.3L530.5,263.3L531.6,262.7L532.7,262L535,262L536.1,261.3L537.2,261.3L538.3,260.7L539.4,260.7L540.6,260L543.9,260L545,259.3L546.2,258.7L550.6,258.7L551.8,258L552.9,257.3L555.1,257.3L556.2,256.7L557.4,256.7L558.5,256L561.8,256L563,255.3L564.1,254.7L565.2,255.3L566.3,255.3L567.4,254L568.6,254L569.7,254.7L570.8,254L571.9,253.3L574.2,253.3L575.3,252.7L576.4,253.3L577.5,252.7L579.8,252.7L580.9,252L583.1,252L584.2,251.3L586.5,251.3L587.6,250.7L591,250.7L592.1,250L595.4,250L596.6,249.3L598.8,249.3L599.9,248.7L601,248.7L602.2,248L604.4,248L605.5,247.3L608.9,247.3L610,246.7L612.2,246.7L613.4,246L614.5,246L615.6,245.3L616.7,245.3L617.8,244.7L619,245.3L620.1,244.7L621.2,244L623.4,244L624.6,243.3L626.8,243.3L627.9,242.7L638,242.7L639.1,243.3L640.2,242.7L641.4,243.3L642.5,243.3L643.6,244L644.7,243.3L645.8,244.7L648.1,244.7L649.2,245.3L652.6,245.3L653.7,246L655.9,246L657,246.7L668.2,246.7L669.4,247.3L670.5,248L671.6,248L672.7,248.7L673.8,249.3L675,249.3L676.1,250.7L678.3,250.7L679.4,252L680.6,252.7L681.7,252L682.8,252.7L685,252.7L686.2,254L687.3,253.3L688.4,254L689.5,254.7L690.6,254.7L691.8,255.3L692.9,256L696.2,256L697.4,257.3L699.6,257.3L700.7,258L701.8,258.7L703,258.7L704.1,259.3L705.2,259.3L706.3,260L709.7,260L710.8,260.7L718.6,260.7L719.8,261.3L720.9,261.3L722,262L723.1,262L724.2,262.7L725.4,263.3L726.5,264L727.6,264.7L728.7,265.3L729.8,265.3L731,266L732.1,267.3L733.2,267.3L734.3,268L735.4,268L736.6,268.7L737.7,269.3L738.8,270.7L739.9,271.3L741,271.3L742.2,272.7L743.3,273.3L744.4,274L745.5,274.7L746.6,275.3L747.8,276L748.9,276L750,276.7L751.1,276.7L752.2,277.3L753.4,278L754.5,278.7L755.6,278.7L756.7,279.3L757.8,280L759,280.7L760.1,281.3L761.2,281.3L762.3,282L763.4,282L764.6,283.3L765.7,283.3L766.8,284L767.9,284.7L769,284.7L770.2,285.3L771.3,286L772.4,286.7L773.5,286.7L774.6,287.3L775.8,288L776.9,288.7L778,288.7L779.1,289.3L780.2,290L781.4,290.7L782.5,291.3L783.6,291.3L784.7,292L785.8,292L787,292.7L788.1,293.3L789.2,294L790.3,294L791.4,294.7L792.6,295.3L794.8,295.3L795.9,296L797,296.7L799.3,296.7L800.4,297.3L802.6,297.3L803.8,298L804.9,298L806,297.3L807.1,298L810.5,298L811.6,298.7L812.7,298.7L813.8,298L815,298.7L823.9,298.7L825,299.3L826.2,299.3L827.3,298.7L828.4,299.3L835.1,299.3L836.2,300L841.8,300L843,299.3L854.2,299.3L855.3,300L860.9,300L862,300.7L863.1,301.3L864.2,302L865.4,303.3L866.5,304L867.6,304.7L868.7,304.7L869.8,305.3L871,306L872.1,306.7L873.2,306.7L874.3,307.3L875.4,308L876.6,308.7L878.8,308.7L879.9,309.3L881,309.3L882.2,310L884.4,310L885.5,310.7L886.6,311.3L888.9,311.3L890,312L891.1,312L892.2,312.7L893.4,313.3L894.5,312.7L895.6,313.3L896.7,313.3L897.8,314L899,314.7L901.2,314.7L902.3,315.3L903.4,316L904.6,316.7L905.7,316L906.8,316.7L910.2,316.7L911.3,317.3L920.2,317.3L921.4,318L924.7,318L925.8,318.7L927,318L928.1,318.7L932.6,318.7L933.7,319.3L935.9,319.3L937,320L938.2,320.7L939.3,320.7L940.4,321.3L941.5,320.7L947.1,320.7L948.2,320L949.4,319.3L950.5,318.7L951.6,318L955,318L956.1,317.3L957.2,316.7L958.3,316.7L959.4,315.3L960.6,314.7L961.7,314L962.8,314L963.9,313.3L965,314L966.2,313.3L967.3,313.3L968.4,312.7L969.5,312L970.6,312.7L971.8,311.3L975.1,311.3L976.2,310.7L977.4,310.7L978.5,310L979.6,310.7L980.7,310.7L981.8,311.3L983,311.3L984.1,312L990.8,312L991.9,312.7L993,312.7L994.2,313.3L995.3,314L996.4,314L997.5,314.7L998.6,315.3L999.8,315.3L1000.9,316L1002,316.7L1003.1,317.3L1005.4,317.3L1006.5,316.7L1007.6,317.3L1013.2,317.3L1014.3,318L1016.6,318L1017.7,318.7L1018.8,319.3L1019.9,320L1021,320L1022.2,319.3L1025.5,319.3L1026.6,318.7L1028.9,318.7L1030,318L1031.1,318L1032.2,317.3L1033.4,316.7L1039,316.7L1040.1,317.3L1041.2,318L1049,318L1050.2,317.3L1051.3,318L1052.4,318L1053.5,318.7L1056.9,318.7L1058,319.3L1061.4,319.3L1062.5,320L1063.6,320L1064.7,320.7L1065.8,320.7L1067,321.3L1074.8,321.3L1075.9,320.7L1081.5,320.7L1082.6,320L1086,320L1087.1,319.3L1088.2,319.3L1089.4,318.7L1090.5,319.3L1091.6,319.3L1092.7,318.7L1093.8,318.7L1095,318L1096.1,317.3L1097.2,318L1098.3,317.3L1099.4,316.7L1100.6,316L1101.7,316L1102.8,315.3L1103.9,315.3L1105,314.7L1106.2,314.7L1107.3,314L1108.4,314L1109.5,313.3L1110.6,314L1111.8,312.7L1112.9,313.3L1114,312.7L1116.2,312.7L1117.4,312L1118.5,312.7L1121.8,312.7L1123,312L1124.1,312.7L1125.2,312.7L1126.3,313.3L1127.4,312.7L1128.6,313.3L1130.8,313.3L1131.9,314L1134.2,314L1135.3,314.7L1136.4,315.3L1137.5,316L1139.8,316L1140.9,316.7L1142,317.3L1143.1,317.3L1144.2,318L1145.4,318.7L1153.2,318.7L1154.3,320L1155.4,320L1156.6,320.7L1170,320.7"/>
<path d="M50,318.7L82.5,318.7L83.6,318L91.4,318L92.6,317.3L100.4,317.3L101.5,318.7L102.6,318.7L103.8,319.3L106,319.3L107.1,320L108.2,320.7L109.4,320.7L110.5,321.3L111.6,320.7L112.7,320.7L113.8,322L117.2,322L118.3,322.7L119.4,323.3L122.8,323.3L123.9,324L125,324L126.2,324.7L131.8,324.7L132.9,324L145.2,324L146.3,325.3L147.4,326L148.6,326L149.7,327.3L151.9,327.3L153,328L154.2,327.3L155.3,328L156.4,327.3L158.6,327.3L159.8,326.7L160.9,326L162,326L163.1,325.3L164.2,325.3L165.4,324.7L167.6,324.7L168.7,324L169.8,323.3L171,324L172.1,323.3L174.3,323.3L175.4,324L176.6,324L177.7,323.3L178.8,324L184.4,324L185.5,324.7L188.9,324.7L190,325.3L191.1,325.3L192.2,324.7L193.4,324.7L194.5,326L195.6,325.3L196.7,326L197.8,326L199,326.7L200.1,326.7L201.2,326L202.3,326.7L203.4,326L210.2,326L211.3,326.7L212.4,326L213.5,326.7L214.6,327.3L222.5,327.3L223.6,328L224.7,328L225.8,328.7L227,328L259.4,328L260.6,327.3L261.7,326.7L262.8,326.7L263.9,326L265,325.3L266.2,325.3L267.3,324L268.4,324L269.5,322.7L271.8,322.7L272.9,322L274,322L275.1,321.3L276.2,320.7L277.4,320.7L278.5,320L279.6,319.3L280.7,318.7L281.8,318.7L283,318L284.1,317.3L285.2,318L286.3,317.3L287.4,316.7L288.6,316.7L289.7,316L290.8,316L291.9,315.3L294.2,315.3L295.3,314.7L296.4,314.7L297.5,314L298.6,313.3L299.8,313.3L300.9,312.7L304.2,312.7L305.4,312L306.5,312L307.6,311.3L308.7,310.7L309.8,310.7L311,310L314.3,310L315.4,309.3L318.8,309.3L319.9,308.7L321,308.7L322.2,308L323.3,308.7L324.4,308L326.6,308L327.8,307.3L328.9,308L330,307.3L332.2,307.3L333.4,306.7L334.5,307.3L335.6,306.7L341.2,306.7L342.3,306L344.6,306L345.7,305.3L346.8,304.7L347.9,305.3L349,304.7L350.2,304L351.3,304.7L352.4,304.7L353.5,304L354.6,303.3L356.9,303.3L358,302.7L359.1,302L360.2,302L361.4,301.3L363.6,301.3L364.7,300L365.8,300.7L367,300L368.1,298.7L370.3,298.7L371.4,298L372.6,297.3L373.7,296.7L374.8,296.7L375.9,296L377,296L378.2,294.7L379.3,294.7L380.4,293.3L381.5,293.3L382.6,292.7L383.8,292L384.9,291.3L386,290L388.2,290L389.4,289.3L390.5,288L391.6,288L392.7,286.7L393.8,286.7L395,286L396.1,285.3L397.2,284.7L398.3,284L399.4,283.3L400.6,283.3L401.7,282.7L402.8,282L403.9,282L405,281.3L406.2,281.3L407.3,280.7L408.4,280L409.5,280L410.6,279.3L411.8,278.7L415.1,278.7L416.2,278L417.4,278L418.5,276.7L419.6,276.7L420.7,276L421.8,276L423,276.7L424.1,276.7L425.2,277.3L428.6,277.3L429.7,276.7L430.8,276L431.9,275.3L433,275.3L434.2,274.7L435.3,274L436.4,274L437.5,273.3L438.6,272L439.8,272L440.9,270.7L442,270.7L443.1,270L444.2,269.3L445.4,268.7L446.5,269.3L447.6,268L449.8,268L451,267.3L456.6,267.3L457.7,268L458.8,268L459.9,267.3L461,268L462.2,267.3L463.3,268L468.9,268L470,268.7L471.1,268.7L472.2,268L473.4,268.7L474.5,268L475.6,268.7L479,268.7L480.1,268L481.2,268L482.3,267.3L483.4,267.3L484.6,266.7L485.7,266.7L486.8,266L487.9,265.3L490.2,265.3L491.3,264.7L493.5,264.7L494.6,264L495.8,263.3L496.9,264L498,263.3L500.2,263.3L501.4,262.7L502.5,262.7L503.6,262L507,262L508.1,260.7L510.3,260.7L511.4,260L512.6,260.7L513.7,260L514.8,259.3L517,259.3L518.2,258.7L519.3,258L520.4,258.7L521.5,258L522.6,258L523.8,257.3L526,257.3L527.1,256L528.2,256L529.4,256.7L530.5,256L531.6,256L532.7,254.7L533.8,255.3L535,254.7L536.1,254.7L537.2,254L538.3,253.3L539.4,253.3L540.6,252.7L543.9,252.7L545,252L546.2,251.3L547.3,251.3L548.4,250.7L549.5,251.3L550.6,251.3L551.8,250.7L552.9,250L554,249.3L555.1,250L556.2,249.3L557.4,249.3L558.5,248.7L560.7,248.7L561.8,248L563,248L564.1,247.3L566.3,247.3L567.4,246.7L569.7,246.7L570.8,246L571.9,245.3L574.2,245.3L575.3,244.7L576.4,245.3L577.5,245.3L578.6,244.7L579.8,244.7L580.9,244L583.1,244L584.2,243.3L586.5,243.3L587.6,242.7L589.8,242.7L591,242L592.1,242L593.2,241.3L594.3,242L595.4,241.3L597.7,241.3L598.8,240.7L601,240.7L602.2,239.3L604.4,239.3L605.5,238.7L608.9,238.7L610,238L611.1,238.7L612.2,238L613.4,237.3L615.6,237.3L616.7,236.7L617.8,236L619,236.7L620.1,236L621.2,235.3L623.4,235.3L624.6,234.7L626.8,234.7L627.9,234L640.2,234L641.4,234.7L642.5,234.7L643.6,235.3L644.7,234.7L645.8,236L648.1,236L649.2,236.7L652.6,236.7L653.7,237.3L655.9,237.3L657,238L666,238L667.1,238.7L669.4,238.7L670.5,239.3L671.6,239.3L672.7,240L673.8,241.3L675,241.3L676.1,242.7L678.3,242.7L679.4,244L680.6,244.7L681.7,244L682.8,244.7L683.9,244.7L685,245.3L686.2,246L687.3,245.3L688.4,246L689.5,247.3L691.8,247.3L692.9,248L694,248.7L696.2,248.7L697.4,249.3L698.5,250L699.6,250L700.7,250.7L701.8,251.3L703,251.3L704.1,252L705.2,252.7L707.4,252.7L708.6,253.3L717.5,253.3L718.6,254L719.8,254L720.9,254.7L722,254.7L723.1,255.3L724.2,256L725.4,256L726.5,256.7L727.6,257.3L728.7,258L729.8,258.7L731,259.3L732.1,260.7L733.2,261.3L735.4,261.3L736.6,262L737.7,263.3L738.8,264L739.9,265.3L741,265.3L742.2,266.7L743.3,266.7L744.4,268L745.5,268.7L746.6,269.3L747.8,270L748.9,270L750,270.7L751.1,271.3L752.2,272L753.4,272.7L754.5,273.3L755.6,273.3L756.7,274L757.8,274.7L759,275.3L760.1,276L761.2,276L762.3,276.7L763.4,277.3L764.6,278L765.7,278L766.8,279.3L767.9,280L769,280L770.2,280.7L771.3,281.3L772.4,282L773.5,282L774.6,282.7L775.8,282.7L776.9,284L778,284L779.1,284.7L780.2,285.3L781.4,286L782.5,286.7L783.6,286.7L784.7,288L785.8,288L787,288.7L788.1,289.3L789.2,289.3L790.3,290L791.4,290.7L792.6,291.3L794.8,291.3L795.9,292L797,292.7L799.3,292.7L800.4,293.3L801.5,293.3L802.6,294L806,294L807.1,294.7L808.2,294L809.4,294L810.5,294.7L820.6,294.7L821.7,295.3L827.3,295.3L828.4,296L829.5,296L830.6,295.3L831.8,295.3L832.9,296L837.4,296L838.5,296.7L839.6,296L841.8,296L843,295.3L853,295.3L854.2,296L855.3,296.7L860.9,296.7L862,297.3L863.1,298L864.2,298.7L865.4,300L866.5,300.7L867.6,301.3L868.7,301.3L869.8,302L871,302.7L872.1,303.3L873.2,304L874.3,304.7L875.4,305.3L876.6,305.3L877.7,306L878.8,306L879.9,306.7L882.2,306.7L883.3,307.3L884.4,307.3L885.5,308.7L888.9,308.7L890,309.3L891.1,310L892.2,310L893.4,310.7L894.5,310.7L895.6,311.3L896.7,311.3L897.8,312L899,312.7L901.2,312.7L902.3,313.3L903.4,314L904.6,314.7L905.7,314L906.8,314.7L910.2,314.7L911.3,315.3L920.2,315.3L921.4,316L923.6,316L924.7,316.7L925.8,316.7L927,316L928.1,316.7L929.2,317.3L930.3,316.7L932.6,316.7L933.7,317.3L934.8,318L935.9,318L937,318.7L938.2,318.7L939.3,319.3L942.6,319.3L943.8,318.7L944.9,319.3L946,318.7L947.1,319.3L948.2,318.7L949.4,318L950.5,316.7L951.6,316L955,316L956.1,315.3L957.2,314.7L958.3,314L959.4,312.7L960.6,312.7L961.7,311.3L962.8,312L963.9,310.7L965,311.3L966.2,311.3L967.3,310.7L968.4,310L970.6,310L971.8,308.7L975.1,308.7L976.2,308L980.7,308L981.8,308.7L983,308.7L984.1,309.3L988.6,309.3L989.7,310L990.8,309.3L991.9,310L993,310L994.2,310.7L995.3,311.3L996.4,312L997.5,312L998.6,312.7L999.8,312.7L1000.9,314L1002,314L1003.1,315.3L1005.4,315.3L1006.5,314.7L1007.6,315.3L1013.2,315.3L1014.3,316L1016.6,316L1017.7,316.7L1018.8,317.3L1019.9,318L1021,318.7L1022.2,318L1023.3,317.3L1025.5,317.3L1026.6,316.7L1028.9,316.7L1030,316L1031.1,316L1032.2,315.3L1033.4,314.7L1039,314.7L1040.1,315.3L1041.2,316L1049,316L1050.2,315.3L1051.3,316L1052.4,316L1053.5,316.7L1055.8,316.7L1056.9,317.3L1058,317.3L1059.1,318L1060.2,317.3L1061.4,318L1063.6,318L1064.7,318.7L1065.8,319.3L1067,320L1074.8,320L1075.9,319.3L1080.4,319.3L1081.5,318.7L1082.6,318L1083.8,318.7L1084.9,318.7L1086,318L1087.1,317.3L1091.6,317.3L1092.7,316.7L1095,316.7L1096.1,315.3L1097.2,316L1098.3,315.3L1099.4,314.7L1100.6,314L1101.7,313.3L1102.8,313.3L1103.9,312.7L1105,312L1106.2,312.7L1107.3,312L1108.4,311.3L1110.6,311.3L1111.8,310.7L1115.1,310.7L1116.2,310L1121.8,310L1123,309.3L1124.1,310.7L1125.2,310L1126.3,310.7L1127.4,310L1128.6,310.7L1129.7,311.3L1130.8,310.7L1131.9,311.3L1133,311.3L1134.2,312L1135.3,312L1136.4,313.3L1137.5,314L1139.8,314L1140.9,314.7L1142,315.3L1143.1,315.3L1144.2,316L1145.4,316.7L1153.2,316.7L1154.3,318L1155.4,318.7L1170,318.7"/>
<path d="M50,317.3L67.9,317.3L69,316.7L82.5,316.7L83.6,316L89.2,316L90.3,316.7L91.4,316L92.6,316L93.7,315.3L98.2,315.3L99.3,316L100.4,316L101.5,316.7L102.6,316.7L103.8,317.3L104.9,318L106,317.3L107.1,318L108.2,319.3L109.4,318.7L110.5,320L111.6,319.3L112.7,319.3L113.8,320L115,320.7L117.2,320.7L118.3,321.3L119.4,322L122.8,322L123.9,322.7L125,322.7L126.2,323.3L127.3,323.3L128.4,324L129.5,323.3L131.8,323.3L132.9,322.7L134,323.3L135.1,323.3L136.2,322.7L145.2,322.7L146.3,324L147.4,324.7L148.6,324.7L149.7,326L150.8,326L151.9,326.7L156.4,326.7L157.5,326L158.6,326L159.8,325.3L160.9,325.3L162,324.7L163.1,324L164.2,324L165.4,323.3L167.6,323.3L168.7,322.7L169.8,322L171,322.7L172.1,322L174.3,322L175.4,322.7L176.6,322.7L177.7,322L178.8,322.7L184.4,322.7L185.5,323.3L188.9,323.3L190,324L193.4,324L194.5,324.7L195.6,324L196.7,324.7L197.8,325.3L203.4,325.3L204.6,324.7L209,324.7L210.2,325.3L213.5,325.3L214.6,326L222.5,326L223.6,327.3L250.5,327.3L251.6,326.7L259.4,326.7L260.6,326L261.7,325.3L262.8,325.3L263.9,324.7L265,324L266.2,324L267.3,322.7L268.4,322.7L269.5,321.3L271.8,321.3L272.9,320L275.1,320L276.2,319.3L277.4,319.3L278.5,318L279.6,317.3L281.8,317.3L283,316L285.2,316L286.3,315.3L287.4,314.7L288.6,314.7L289.7,314L290.8,314L291.9,313.3L294.2,313.3L295.3,312.7L296.4,312.7L297.5,311.3L298.6,311.3L299.8,310.7L303.1,310.7L304.2,310L305.4,310L306.5,309.3L307.6,308.7L308.7,308L311,308L312.1,307.3L315.4,307.3L316.6,306.7L317.7,307.3L318.8,306.7L319.9,306L321,306L322.2,305.3L323.3,306L324.4,305.3L326.6,305.3L327.8,304.7L328.9,305.3L330,304.7L332.2,304.7L333.4,304L334.5,304.7L335.6,304L336.7,304L337.8,303.3L339,304L341.2,304L342.3,303.3L344.6,303.3L345.7,302.7L346.8,302L347.9,302L349,301.3L352.4,301.3L353.5,300.7L354.6,300.7L355.8,300L356.9,300L358,299.3L359.1,299.3L360.2,298.7L361.4,298L363.6,298L364.7,296.7L365.8,297.3L367,296.7L368.1,295.3L370.3,295.3L371.4,294.7L372.6,294L373.7,293.3L374.8,293.3L375.9,292.7L377,292L378.2,291.3L379.3,290.7L380.4,289.3L381.5,289.3L382.6,288.7L383.8,288L384.9,287.3L386,286L387.1,286L388.2,285.3L389.4,284.7L390.5,284L391.6,283.3L392.7,282.7L393.8,282.7L395,282L396.1,280.7L397.2,280L398.3,279.3L399.4,278.7L400.6,278.7L401.7,278L402.8,277.3L403.9,277.3L405,276L406.2,276.7L407.3,275.3L409.5,275.3L410.6,274L412.9,274L414,273.3L415.1,273.3L416.2,272.7L417.4,272.7L418.5,272L419.6,272L420.7,270.7L421.8,270.7L423,271.3L424.1,271.3L425.2,272L426.3,272L427.4,272.7L428.6,272L429.7,271.3L430.8,270.7L431.9,270L433,270L434.2,269.3L435.3,268L437.5,268L438.6,266.7L439.8,266L440.9,265.3L442,264.7L443.1,264L444.2,263.3L445.4,262.7L446.5,263.3L447.6,262L449.8,262L451,261.3L456.6,261.3L457.7,262L458.8,262L459.9,261.3L461,262L468.9,262L470,262.7L471.1,262.7L472.2,262L473.4,262.7L479,262.7L480.1,262L481.2,262L482.3,261.3L483.4,261.3L484.6,260.7L485.7,260.7L486.8,260L487.9,259.3L489,259.3L490.2,258.7L492.4,258.7L493.5,258L494.6,257.3L498,257.3L499.1,256.7L500.2,256.7L501.4,256L502.5,256L503.6,255.3L507,255.3L508.1,254.7L509.2,254L510.3,254.7L511.4,253.3L512.6,254L513.7,253.3L514.8,252.7L517,252.7L518.2,252L519.3,251.3L520.4,252L521.5,251.3L522.6,251.3L523.8,250L526,250L527.1,249.3L531.6,249.3L532.7,248L535,248L536.1,247.3L537.2,247.3L538.3,246.7L539.4,246L540.6,246L541.7,245.3L543.9,245.3L545,244.7L546.2,244L547.3,244L548.4,243.3L549.5,244L550.6,244L551.8,243.3L552.9,242.7L554,242L555.1,242.7L556.2,242L557.4,242L558.5,241.3L559.6,241.3L560.7,240.7L563,240.7L564.1,239.3L565.2,240L566.3,240L567.4,238.7L569.7,238.7L570.8,238L571.9,238L573,237.3L574.2,237.3L575.3,236.7L576.4,237.3L577.5,237.3L578.6,236.7L579.8,236.7L580.9,236L583.1,236L584.2,235.3L586.5,235.3L587.6,234.7L589.8,234.7L591,234L592.1,234L593.2,233.3L594.3,234L595.4,233.3L596.6,233.3L597.7,232.7L598.8,232.7L599.9,232L601,232L602.2,231.3L604.4,231.3L605.5,230.7L607.8,230.7L608.9,230L610,229.3L611.1,230L612.2,229.3L613.4,228.7L615.6,228.7L616.7,228L619,228L620.1,227.3L621.2,226.7L623.4,226.7L624.6,225.3L625.7,226L626.8,226L627.9,225.3L629,225.3L630.2,224.7L631.3,224.7L632.4,225.3L640.2,225.3L641.4,226L642.5,226L643.6,226.7L644.7,226L645.8,227.3L648.1,227.3L649.2,228.7L650.3,228L651.4,228.7L652.6,228L653.7,228.7L654.8,229.3L655.9,228.7L657,230L658.2,229.3L662.6,229.3L663.8,230L669.4,230L670.5,230.7L671.6,231.3L672.7,232L673.8,233.3L675,233.3L676.1,234.7L678.3,234.7L679.4,236L680.6,236.7L681.7,236L682.8,236.7L683.9,236.7L685,237.3L686.2,238L687.3,238L688.4,238.7L689.5,239.3L690.6,239.3L691.8,240L692.9,240.7L694,240.7L695.1,241.3L696.2,241.3L697.4,242L698.5,242.7L700.7,242.7L701.8,244L703,244L704.1,244.7L705.2,245.3L707.4,245.3L708.6,246L713,246L714.2,246.7L715.3,246L717.5,246L718.6,246.7L719.8,247.3L722,247.3L723.1,248L724.2,248.7L725.4,249.3L726.5,250L727.6,250.7L728.7,251.3L729.8,252L731,252.7L732.1,254L733.2,254.7L734.3,255.3L735.4,255.3L736.6,256L737.7,256.7L738.8,258L739.9,258.7L741,259.3L742.2,260.7L743.3,260.7L744.4,262L745.5,263.3L746.6,263.3L747.8,264L748.9,264.7L750,265.3L751.1,265.3L752.2,266L753.4,267.3L754.5,268L756.7,268L757.8,269.3L759,270L760.1,270.7L761.2,270.7L762.3,271.3L763.4,272L764.6,273.3L765.7,273.3L766.8,274L767.9,274.7L769,274.7L770.2,276L771.3,276.7L772.4,277.3L773.5,277.3L774.6,278L775.8,278L776.9,279.3L778,279.3L779.1,280L780.2,281.3L781.4,281.3L782.5,282.7L783.6,282.7L784.7,283.3L785.8,283.3L787,284L788.1,285.3L789.2,285.3L790.3,286L791.4,286.7L792.6,287.3L794.8,287.3L795.9,288L797,288.7L799.3,288.7L800.4,289.3L801.5,289.3L802.6,290L803.8,290L804.9,290.7L806,290L807.1,290.7L808.2,290L809.4,290.7L810.5,290.7L811.6,291.3L812.7,291.3L813.8,290.7L816.1,290.7L817.2,291.3L823.9,291.3L825,292L826.2,292L827.3,291.3L828.4,292L834,292L835.1,292.7L841.8,292.7L843,291.3L844.1,292L854.2,292L855.3,293.3L856.4,292.7L857.5,293.3L860.9,293.3L862,294L863.1,294.7L864.2,295.3L865.4,296.7L866.5,297.3L867.6,298L868.7,298L869.8,299.3L871,299.3L872.1,300.7L873.2,300.7L874.3,301.3L875.4,302L876.6,302.7L877.7,302.7L878.8,303.3L879.9,304L882.2,304L883.3,304.7L884.4,304.7L885.5,306L886.6,306.7L887.8,306L888.9,306.7L890,306.7L891.1,307.3L892.2,307.3L893.4,308.7L894.5,308L895.6,308.7L896.7,308.7L897.8,310L900.1,310L901.2,310.7L902.3,311.3L903.4,312L904.6,312.7L905.7,312L906.8,312.7L910.2,312.7L911.3,313.3L912.4,313.3L913.5,312.7L914.6,313.3L920.2,313.3L921.4,314L923.6,314L924.7,314.7L925.8,314.7L927,314L928.1,314.7L929.2,315.3L930.3,314.7L932.6,314.7L933.7,316L935.9,316L937,316.7L938.2,317.3L939.3,317.3L940.4,318L941.5,317.3L947.1,317.3L948.2,316.7L949.4,316L950.5,314.7L951.6,314L955,314L956.1,313.3L957.2,312.7L958.3,312L959.4,310.7L960.6,310L961.7,309.3L962.8,309.3L963.9,308.7L965,309.3L966.2,308.7L967.3,308.7L968.4,307.3L970.6,307.3L971.8,306.7L972.9,306.7L974,306L975.1,306L976.2,305.3L980.7,305.3L981.8,306L983,306L984.1,306.7L988.6,306.7L989.7,307.3L991.9,307.3L993,308L994.2,308.7L995.3,309.3L996.4,310L997.5,310L998.6,310.7L999.8,310.7L1000.9,311.3L1002,312L1003.1,313.3L1005.4,313.3L1006.5,312.7L1007.6,313.3L1013.2,313.3L1014.3,314L1016.6,314L1017.7,314.7L1018.8,315.3L1019.9,316L1021,316.7L1022.2,316L1023.3,315.3L1025.5,315.3L1026.6,314.7L1028.9,314.7L1030,314L1031.1,314L1032.2,313.3L1033.4,312.7L1039,312.7L1040.1,314L1049,314L1050.2,313.3L1051.3,314L1052.4,314L1053.5,314.7L1055.8,314.7L1056.9,315.3L1058,315.3L1059.1,316L1061.4,316L1062.5,316.7L1063.6,316L1064.7,316.7L1065.8,317.3L1067,318L1069.2,318L1070.3,318.7L1071.4,318L1074.8,318L1075.9,317.3L1081.5,317.3L1082.6,316.7L1084.9,316.7L1086,316L1088.2,316L1089.4,315.3L1091.6,315.3L1092.7,314.7L1095,314.7L1096.1,313.3L1097.2,314L1098.3,313.3L1099.4,312.7L1100.6,312L1101.7,311.3L1102.8,311.3L1103.9,310.7L1105,310L1106.2,310L1107.3,309.3L1108.4,309.3L1109.5,308.7L1110.6,309.3L1111.8,308L1112.9,308.7L1114,308L1116.2,308L1117.4,307.3L1118.5,308L1119.6,308L1120.7,307.3L1123,307.3L1124.1,308L1125.2,307.3L1126.3,308L1128.6,308L1129.7,308.7L1130.8,308.7L1131.9,309.3L1134.2,309.3L1135.3,310L1136.4,311.3L1137.5,311.3L1138.6,312L1139.8,312L1140.9,312.7L1142,313.3L1143.1,313.3L1144.2,314.7L1152.1,314.7L1153.2,315.3L1154.3,316L1155.4,316.7L1156.6,317.3L1170,317.3"/>
<path d="M50,315.3L80.2,315.3L81.4,314.7L82.5,314.7L83.6,314L89.2,314L90.3,314.7L91.4,314.7L92.6,314L93.7,313.3L98.2,313.3L99.3,314L100.4,314L101.5,314.7L102.6,314.7L103.8,316L106,316L107.1,316.7L108.2,317.3L109.4,317.3L110.5,318L112.7,318L113.8,318.7L115,319.3L117.2,319.3L118.3,320L119.4,320.7L122.8,320.7L123.9,321.3L125,321.3L126.2,322L127.3,322L128.4,322.7L129.5,322L131.8,322L132.9,321.3L134,322L138.5,322L139.6,321.3L145.2,321.3L146.3,322.7L147.4,323.3L148.6,323.3L149.7,325.3L151.9,325.3L153,326L154.2,325.3L155.3,326L156.4,326L157.5,325.3L158.6,325.3L159.8,324L160.9,324L162,323.3L163.1,322.7L164.2,323.3L165.4,322L167.6,322L168.7,321.3L169.8,320.7L171,321.3L172.1,320.7L174.3,320.7L175.4,321.3L176.6,321.3L177.7,320.7L178.8,321.3L179.9,322L181,321.3L184.4,321.3L185.5,322.7L186.6,322L187.8,322.7L188.9,322L190,322.7L193.4,322.7L194.5,323.3L195.6,322.7L196.7,323.3L197.8,324L199,324.7L200.1,324.7L201.2,324L202.3,324.7L203.4,324L206.8,324L207.9,323.3L209,324L210.2,324L211.3,324.7L212.4,324L213.5,324.7L214.6,324.7L215.8,325.3L219.1,325.3L220.2,324.7L221.4,325.3L222.5,325.3L223.6,326L224.7,326L225.8,326.7L227,326L231.4,326L232.6,326.7L240.4,326.7L241.5,326L259.4,326L260.6,325.3L261.7,324L262.8,324L263.9,323.3L265,322.7L266.2,322.7L267.3,321.3L268.4,321.3L269.5,320L270.6,320L271.8,319.3L272.9,318.7L274,318.7L275.1,318L276.2,318L277.4,317.3L278.5,316.7L279.6,316L280.7,315.3L281.8,315.3L283,314.7L284.1,314L285.2,314L286.3,313.3L288.6,313.3L289.7,312L290.8,312L291.9,311.3L294.2,311.3L295.3,310.7L296.4,310L297.5,309.3L298.6,309.3L299.8,308.7L300.9,308L304.2,308L305.4,307.3L306.5,307.3L307.6,306L309.8,306L311,305.3L312.1,304.7L315.4,304.7L316.6,304L317.7,304.7L318.8,304.7L319.9,304L321,303.3L322.2,302.7L323.3,303.3L324.4,302.7L326.6,302.7L327.8,302L328.9,302.7L330,302L332.2,302L333.4,301.3L334.5,302L335.6,301.3L336.7,301.3L337.8,300.7L339,301.3L340.1,300.7L344.6,300.7L345.7,300L346.8,299.3L347.9,299.3L349,298.7L350.2,298L351.3,298.7L352.4,298.7L353.5,298L354.6,297.3L356.9,297.3L358,296.7L359.1,296L360.2,296L361.4,295.3L362.5,295.3L363.6,294.7L364.7,293.3L365.8,294L367,293.3L368.1,292L369.2,292L370.3,291.3L371.4,291.3L372.6,290L373.7,290L374.8,289.3L375.9,288.7L377,288.7L378.2,287.3L379.3,286.7L380.4,286L381.5,285.3L382.6,284.7L383.8,284L384.9,283.3L386,282L387.1,282L388.2,281.3L389.4,280.7L390.5,279.3L391.6,279.3L392.7,278L393.8,278L395,277.3L396.1,276L397.2,275.3L398.3,274.7L399.4,274.7L400.6,274L401.7,273.3L402.8,272L403.9,272.7L405,271.3L406.2,272L407.3,270.7L409.5,270.7L410.6,269.3L411.8,268.7L414,268.7L415.1,268L416.2,267.3L417.4,267.3L418.5,266.7L419.6,266.7L420.7,265.3L421.8,266L424.1,266L425.2,266.7L426.3,267.3L428.6,267.3L429.7,266L430.8,265.3L431.9,264.7L433,264.7L434.2,264L435.3,262.7L436.4,262.7L437.5,262L438.6,261.3L439.8,260.7L440.9,259.3L442,259.3L443.1,258L444.2,258L445.4,256.7L446.5,257.3L447.6,256.7L448.7,256L449.8,256L451,255.3L456.6,255.3L457.7,256L458.8,256L459.9,255.3L461,256L464.4,256L465.5,256.7L466.6,256L468.9,256L470,256.7L476.7,256.7L477.8,257.3L479,256.7L480.1,256L481.2,256L482.3,255.3L483.4,255.3L484.6,254.7L485.7,254.7L486.8,254L487.9,253.3L489,253.3L490.2,252.7L491.3,252.7L492.4,252L493.5,252L494.6,251.3L495.8,250.7L496.9,251.3L498,250.7L500.2,250.7L501.4,250L502.5,250L503.6,248.7L504.7,249.3L505.8,248.7L507,248.7L508.1,248L509.2,247.3L510.3,248L511.4,246.7L512.6,247.3L513.7,246.7L514.8,246L515.9,245.3L517,246L518.2,245.3L519.3,244.7L520.4,245.3L521.5,244L522.6,244.7L523.8,243.3L526,243.3L527.1,242.7L528.2,242L529.4,242.7L530.5,242.7L531.6,242L532.7,240.7L535,240.7L536.1,240L537.2,240L538.3,239.3L539.4,238.7L540.6,238.7L541.7,238L543.9,238L545,237.3L546.2,236.7L547.3,236.7L548.4,236L549.5,236.7L550.6,236.7L551.8,236L552.9,234.7L554,234.7L555.1,235.3L556.2,234.7L557.4,234.7L558.5,233.3L560.7,233.3L561.8,232.7L563,232.7L564.1,232L566.3,232L567.4,231.3L569.7,231.3L570.8,230.7L571.9,230L574.2,230L575.3,229.3L577.5,229.3L578.6,228.7L579.8,228.7L580.9,228L583.1,228L584.2,227.3L586.5,227.3L587.6,226L588.7,226.7L589.8,226.7L591,226L592.1,226L593.2,225.3L595.4,225.3L596.6,224.7L598.8,224.7L599.9,224L601,224L602.2,223.3L603.3,222.7L604.4,222.7L605.5,222L608.9,222L610,221.3L612.2,221.3L613.4,220.7L614.5,220.7L615.6,220L616.7,219.3L619,219.3L620.1,218.7L621.2,218.7L622.3,218L623.4,218L624.6,216.7L625.7,217.3L626.8,217.3L627.9,216.7L629,216.7L630.2,216L634.6,216L635.8,216.7L640.2,216.7L641.4,217.3L642.5,217.3L643.6,218L644.7,217.3L645.8,218.7L648.1,218.7L649.2,220L650.3,219.3L651.4,220L653.7,220L654.8,220.7L655.9,220L657,221.3L658.2,220.7L659.3,221.3L668.2,221.3L669.4,222L670.5,222.7L671.6,223.3L672.7,224L673.8,224.7L675,225.3L676.1,226L677.2,226.7L678.3,226.7L679.4,228L680.6,228.7L681.7,228L682.8,229.3L683.9,228.7L685,229.3L686.2,230L687.3,230L688.4,230.7L689.5,231.3L690.6,232L691.8,232L692.9,233.3L696.2,233.3L697.4,234.7L698.5,234.7L699.6,235.3L700.7,235.3L701.8,236.7L703,236.7L704.1,237.3L705.2,238L707.4,238L708.6,238.7L711.9,238.7L713,239.3L715.3,239.3L716.4,238.7L717.5,238.7L718.6,239.3L719.8,240L720.9,240L722,240.7L723.1,241.3L724.2,242L725.4,242.7L726.5,243.3L727.6,244L728.7,244.7L729.8,244.7L731,246L732.1,247.3L733.2,248L734.3,248.7L735.4,248.7L736.6,249.3L737.7,250.7L738.8,251.3L739.9,252.7L741,253.3L742.2,254.7L743.3,254.7L744.4,256L745.5,257.3L746.6,258L747.8,258.7L748.9,258.7L750,259.3L751.1,260L752.2,260.7L753.4,261.3L754.5,262L755.6,262L756.7,262.7L757.8,264L759,264.7L760.1,265.3L761.2,265.3L762.3,266L763.4,266.7L764.6,268L765.7,268L766.8,269.3L767.9,270L769,270L770.2,270.7L771.3,272L772.4,272.7L773.5,272.7L774.6,273.3L775.8,273.3L776.9,274.7L778,274.7L779.1,275.3L780.2,276.7L781.4,277.3L782.5,278L783.6,278L784.7,279.3L785.8,279.3L787,280L788.1,281.3L789.2,281.3L790.3,282L791.4,282.7L792.6,283.3L794.8,283.3L795.9,284L797,284.7L799.3,284.7L800.4,285.3L801.5,286L802.6,286L803.8,286.7L804.9,286.7L806,286L807.1,286.7L810.5,286.7L811.6,287.3L820.6,287.3L821.7,288L827.3,288L828.4,288.7L829.5,288.7L830.6,288L831.8,288L832.9,288.7L835.1,288.7L836.2,289.3L837.4,288.7L838.5,289.3L839.6,288.7L841.8,288.7L843,288L853,288L854.2,288.7L855.3,289.3L860.9,289.3L862,290L863.1,290.7L864.2,292L865.4,293.3L866.5,294L867.6,294.7L868.7,295.3L869.8,296L871,296.7L872.1,297.3L873.2,298L874.3,298.7L875.4,299.3L876.6,300L877.7,300L878.8,300.7L879.9,301.3L882.2,301.3L883.3,302L884.4,302L885.5,303.3L886.6,304L887.8,303.3L888.9,304L890,304L891.1,304.7L892.2,305.3L893.4,306L894.5,305.3L895.6,306L896.7,306.7L897.8,307.3L899,308L901.2,308L902.3,308.7L903.4,309.3L904.6,310.7L905.7,310L906.8,310.7L910.2,310.7L911.3,311.3L912.4,311.3L913.5,310.7L914.6,310.7L915.8,311.3L920.2,311.3L921.4,312L923.6,312L924.7,312.7L925.8,312.7L927,312L928.1,312.7L929.2,313.3L930.3,312.7L932.6,312.7L933.7,314L935.9,314L937,314.7L938.2,315.3L939.3,316L941.5,316L942.6,315.3L948.2,315.3L949.4,314L950.5,312.7L951.6,312L955,312L956.1,310.7L957.2,310.7L958.3,310L959.4,308.7L960.6,308L961.7,306.7L962.8,307.3L963.9,306L965,306.7L966.2,306.7L967.3,306L968.4,304.7L970.6,304.7L971.8,304L972.9,304L974,303.3L975.1,303.3L976.2,302.7L980.7,302.7L981.8,304L983,303.3L984.1,304L988.6,304L989.7,304.7L990.8,304.7L991.9,305.3L993,305.3L994.2,306L995.3,306.7L996.4,307.3L997.5,307.3L998.6,308.7L999.8,308.7L1000.9,309.3L1002,310L1003.1,311.3L1004.2,311.3L1005.4,310.7L1007.6,310.7L1008.7,311.3L1013.2,311.3L1014.3,312.7L1015.4,312.7L1016.6,312L1017.7,313.3L1018.8,313.3L1019.9,314L1021,314.7L1022.2,314L1023.3,314L1024.4,313.3L1025.5,313.3L1026.6,312.7L1028.9,312.7L1030,312L1031.1,312L1032.2,311.3L1033.4,310.7L1039,310.7L1040.1,312L1049,312L1050.2,311.3L1051.3,312L1052.4,312L1053.5,312.7L1055.8,312.7L1056.9,313.3L1058,314L1061.4,314L1062.5,314.7L1063.6,314.7L1064.7,315.3L1065.8,316L1067,316.7L1074.8,316.7L1075.9,316L1080.4,316L1081.5,315.3L1082.6,314.7L1083.8,315.3L1084.9,314.7L1086,314.7L1087.1,314L1088.2,314L1089.4,313.3L1091.6,313.3L1092.7,312.7L1095,312.7L1096.1,311.3L1097.2,312L1098.3,311.3L1099.4,310L1100.6,309.3L1101.7,309.3L1102.8,308.7L1103.9,308.7L1105,307.3L1106.2,308L1107.3,307.3L1108.4,306.7L1109.5,306L1110.6,306.7L1111.8,306L1112.9,306L1114,305.3L1116.2,305.3L1117.4,304.7L1118.5,305.3L1121.8,305.3L1123,304.7L1124.1,305.3L1125.2,305.3L1126.3,306L1127.4,305.3L1128.6,306L1129.7,306.7L1130.8,306L1131.9,306.7L1133,306.7L1134.2,307.3L1135.3,308L1136.4,308.7L1137.5,309.3L1138.6,309.3L1139.8,310L1140.9,310.7L1142,311.3L1143.1,311.3L1144.2,312.7L1151,312.7L1152.1,313.3L1153.2,313.3L1154.3,314.7L1155.4,314.7L1156.6,315.3L1170,315.3"/></g>
<path d="M50,313.3L82.5,313.3L83.6,312.7L87,312.7L88.1,312L89.2,312L90.3,312.7L91.4,312.7L92.6,312L93.7,312L94.8,311.3L98.2,311.3L99.3,312L100.4,312L101.5,313.3L102.6,313.3L103.8,314L104.9,314.7L106,314L107.1,314.7L108.2,316L109.4,316L110.5,316.7L112.7,316.7L113.8,317.3L115,318L116.1,317.3L117.2,318L118.3,318L119.4,319.3L122.8,319.3L123.9,320L125,320L126.2,321.3L127.3,320.7L128.4,321.3L129.5,321.3L130.6,320.7L131.8,321.3L132.9,320L134,320.7L143,320.7L144.1,320L145.2,320L146.3,321.3L147.4,322L148.6,322.7L149.7,324L150.8,324L151.9,324.7L156.4,324.7L157.5,324L158.6,324L159.8,323.3L160.9,323.3L162,322L164.2,322L165.4,321.3L166.5,320.7L167.6,320.7L168.7,320L169.8,319.3L171,320L172.1,319.3L174.3,319.3L175.4,320L176.6,320L177.7,319.3L178.8,320.7L179.9,320.7L181,320L184.4,320L185.5,321.3L186.6,320.7L187.8,321.3L188.9,320.7L190,321.3L193.4,321.3L194.5,322L196.7,322L197.8,322.7L199,323.3L202.3,323.3L203.4,322.7L210.2,322.7L211.3,323.3L213.5,323.3L214.6,324L222.5,324L223.6,325.3L224.7,325.3L225.8,326L227,325.3L252.7,325.3L253.8,324.7L259.4,324.7L260.6,324L261.7,323.3L262.8,323.3L263.9,322L265,321.3L266.2,321.3L267.3,320L268.4,320L269.5,318.7L270.6,318.7L271.8,318L272.9,317.3L274,317.3L275.1,316.7L276.2,316L277.4,316L278.5,314.7L279.6,314L281.8,314L283,312.7L284.1,312L285.2,312.7L286.3,312L287.4,311.3L288.6,311.3L289.7,310L290.8,310L291.9,309.3L293,308.7L295.3,308.7L296.4,308L297.5,307.3L298.6,307.3L299.8,306.7L300.9,306L303.1,306L304.2,305.3L306.5,305.3L307.6,304L308.7,303.3L309.8,303.3L311,302.7L314.3,302.7L315.4,302L318.8,302L319.9,301.3L321,300.7L322.2,300L323.3,301.3L324.4,300L325.5,300.7L326.6,300L327.8,299.3L328.9,300L330,299.3L332.2,299.3L333.4,298.7L334.5,299.3L335.6,298.7L336.7,298.7L337.8,298L339,298.7L340.1,298L344.6,298L345.7,297.3L346.8,296.7L347.9,296.7L349,296L350.2,295.3L352.4,295.3L353.5,294.7L354.6,294.7L355.8,294L356.9,294L358,293.3L359.1,293.3L360.2,292.7L361.4,292L362.5,292L363.6,291.3L364.7,290L365.8,290.7L367,290L368.1,288.7L369.2,288.7L370.3,288L371.4,288L372.6,286.7L373.7,286L374.8,286L375.9,285.3L377,284.7L378.2,284L379.3,283.3L380.4,282L381.5,282L382.6,281.3L383.8,280L384.9,279.3L386,278L387.1,278L388.2,277.3L389.4,276.7L390.5,275.3L391.6,274.7L392.7,273.3L393.8,273.3L395,272.7L396.1,271.3L397.2,270.7L398.3,270L399.4,270L400.6,269.3L401.7,268.7L402.8,267.3L403.9,268L405,266.7L406.2,266.7L407.3,266L408.4,265.3L409.5,265.3L410.6,264L412.9,264L414,263.3L415.1,263.3L416.2,262.7L417.4,262L418.5,261.3L419.6,261.3L420.7,260L421.8,260.7L423,261.3L424.1,261.3L425.2,262L428.6,262L429.7,260.7L430.8,260L431.9,259.3L433,259.3L434.2,258.7L435.3,257.3L436.4,257.3L437.5,256.7L438.6,255.3L439.8,254.7L440.9,253.3L442,253.3L443.1,252.7L444.2,252L445.4,250.7L446.5,251.3L447.6,250.7L448.7,250L449.8,250L451,249.3L456.6,249.3L457.7,250L458.8,250L459.9,249.3L461,250L464.4,250L465.5,250.7L466.6,250L468.9,250L470,250.7L476.7,250.7L477.8,251.3L479,250.7L480.1,250L481.2,250L482.3,249.3L483.4,249.3L484.6,248.7L485.7,248.7L486.8,247.3L489,247.3L490.2,246.7L491.3,246L492.4,246L493.5,245.3L494.6,244.7L498,244.7L499.1,244L500.2,244L501.4,243.3L502.5,243.3L503.6,242.7L505.8,242.7L507,242L508.1,241.3L509.2,240.7L510.3,241.3L511.4,240L512.6,240.7L513.7,240L514.8,239.3L515.9,238.7L517,239.3L518.2,238L520.4,238L521.5,237.3L522.6,237.3L523.8,236.7L526,236.7L527.1,235.3L531.6,235.3L532.7,234L535,234L536.1,233.3L537.2,233.3L538.3,232L539.4,231.3L540.6,231.3L541.7,230.7L542.8,231.3L543.9,230.7L545,230.7L546.2,229.3L547.3,229.3L548.4,228.7L549.5,229.3L550.6,229.3L551.8,228.7L552.9,227.3L554,227.3L555.1,228L556.2,226.7L557.4,226.7L558.5,226L559.6,226L560.7,225.3L563,225.3L564.1,224L565.2,224.7L566.3,224.7L567.4,223.3L569.7,223.3L570.8,222.7L571.9,222L574.2,222L575.3,221.3L576.4,222L577.5,221.3L578.6,221.3L579.8,220.7L580.9,220.7L582,220L583.1,220L584.2,219.3L586.5,219.3L587.6,218L588.7,218.7L589.8,218L592.1,218L593.2,217.3L595.4,217.3L596.6,216.7L597.7,216.7L598.8,216L599.9,215.3L601,216L602.2,214.7L604.4,214.7L605.5,214L607.8,214L608.9,213.3L610,212.7L611.1,213.3L612.2,212.7L613.4,212L614.5,212L615.6,211.3L616.7,210.7L619,210.7L620.1,210L621.2,210L622.3,209.3L623.4,209.3L624.6,208L625.7,208.7L626.8,208.7L627.9,208L629,208L630.2,207.3L634.6,207.3L635.8,208L640.2,208L641.4,208.7L642.5,208.7L643.6,209.3L644.7,208.7L645.8,210L648.1,210L649.2,211.3L650.3,210.7L651.4,211.3L652.6,211.3L653.7,212L655.9,212L657,212.7L666,212.7L667.1,213.3L669.4,213.3L670.5,214L671.6,214.7L672.7,215.3L673.8,216.7L675,216.7L676.1,218L677.2,218.7L678.3,218.7L679.4,220L680.6,220.7L681.7,220L682.8,221.3L683.9,220.7L685,221.3L686.2,222.7L687.3,222L688.4,222.7L689.5,224L690.6,224L691.8,224.7L692.9,225.3L694,226L696.2,226L697.4,227.3L698.5,227.3L699.6,228L700.7,228L701.8,229.3L703,229.3L704.1,230L705.2,230.7L706.3,230.7L707.4,231.3L709.7,231.3L710.8,232L718.6,232L719.8,232.7L720.9,233.3L722,233.3L723.1,234L724.2,235.3L725.4,235.3L726.5,236L727.6,237.3L728.7,238L729.8,238L731,239.3L732.1,240.7L733.2,241.3L734.3,242L735.4,242L736.6,243.3L737.7,244L738.8,245.3L739.9,246.7L741,246.7L742.2,248.7L743.3,248.7L744.4,250L745.5,251.3L746.6,252L747.8,252.7L748.9,252.7L750,254L751.1,254L752.2,254.7L753.4,256L754.5,256.7L755.6,256.7L756.7,257.3L757.8,258.7L759,259.3L760.1,260L761.2,260L762.3,261.3L763.4,261.3L764.6,262.7L765.7,263.3L766.8,264L767.9,265.3L769,265.3L770.2,266L771.3,266.7L772.4,268L773.5,268L774.6,268.7L775.8,268.7L776.9,270.7L778,270L779.1,270.7L780.2,272L781.4,272.7L782.5,273.3L783.6,274L784.7,275.3L785.8,274.7L787,276L788.1,276.7L789.2,277.3L790.3,278L791.4,278.7L792.6,279.3L794.8,279.3L795.9,280L797,280.7L799.3,280.7L800.4,282L801.5,282L802.6,282.7L806,282.7L807.1,283.3L808.2,282.7L809.4,282.7L810.5,283.3L817.2,283.3L818.3,284L823.9,284L825,284.7L826.2,284.7L827.3,284L828.4,284.7L832.9,284.7L834,285.3L841.8,285.3L843,284L844.1,284.7L854.2,284.7L855.3,286L860.9,286L862,286.7L863.1,287.3L864.2,288.7L865.4,290L866.5,290.7L867.6,292L868.7,292L869.8,293.3L871,293.3L872.1,294.7L873.2,294.7L874.3,295.3L875.4,296.7L876.6,297.3L878.8,297.3L879.9,298L881,298.7L882.2,298.7L883.3,299.3L884.4,299.3L885.5,300.7L886.6,301.3L888.9,301.3L890,302L891.1,302.7L892.2,302.7L893.4,304L894.5,303.3L895.6,304L896.7,304L897.8,305.3L899,306L900.1,305.3L901.2,306L902.3,306.7L903.4,307.3L904.6,308L905.7,308L906.8,308.7L914.6,308.7L915.8,309.3L920.2,309.3L921.4,310L923.6,310L924.7,310.7L928.1,310.7L929.2,311.3L930.3,311.3L931.4,310.7L932.6,310.7L933.7,312L934.8,312L935.9,312.7L937,313.3L938.2,314L947.1,314L948.2,313.3L949.4,312L950.5,310.7L951.6,310L955,310L956.1,308.7L957.2,308L958.3,308L959.4,306L960.6,306L961.7,304.7L962.8,304.7L963.9,304L965,304.7L966.2,304L967.3,304L968.4,302.7L970.6,302.7L971.8,301.3L972.9,301.3L974,300.7L975.1,300.7L976.2,300L980.7,300L981.8,301.3L983,301.3L984.1,302L990.8,302L991.9,302.7L993,302.7L994.2,304L995.3,304.7L996.4,305.3L997.5,305.3L998.6,306L999.8,306L1000.9,307.3L1002,308L1003.1,309.3L1004.2,308.7L1007.6,308.7L1008.7,309.3L1013.2,309.3L1014.3,310.7L1015.4,310.7L1016.6,310L1017.7,311.3L1018.8,311.3L1019.9,312.7L1021,313.3L1022.2,312.7L1023.3,312L1024.4,311.3L1026.6,311.3L1027.8,310.7L1028.9,310.7L1030,310L1031.1,310L1032.2,309.3L1033.4,308.7L1039,308.7L1040.1,310L1049,310L1050.2,309.3L1051.3,310L1052.4,310L1053.5,311.3L1054.6,310.7L1055.8,311.3L1056.9,311.3L1058,312L1060.2,312L1061.4,312.7L1063.6,312.7L1064.7,313.3L1065.8,314L1067,314.7L1069.2,314.7L1070.3,315.3L1071.4,314.7L1074.8,314.7L1075.9,314L1080.4,314L1081.5,313.3L1082.6,312.7L1083.8,313.3L1084.9,313.3L1086,312.7L1087.1,312L1088.2,312L1089.4,311.3L1090.5,312L1091.6,312L1092.7,310.7L1095,310.7L1096.1,309.3L1097.2,310L1098.3,309.3L1099.4,308L1100.6,307.3L1101.7,307.3L1102.8,306.7L1103.9,306L1105,305.3L1106.2,305.3L1107.3,304.7L1108.4,304.7L1109.5,304L1110.6,304.7L1111.8,303.3L1112.9,304L1114,303.3L1115.1,303.3L1116.2,302.7L1121.8,302.7L1123,302L1124.1,303.3L1125.2,302.7L1126.3,303.3L1127.4,302.7L1128.6,303.3L1129.7,304L1130.8,304L1131.9,304.7L1134.2,304.7L1135.3,305.3L1136.4,306.7L1137.5,307.3L1138.6,307.3L1139.8,308L1140.9,308.7L1142,309.3L1143.1,309.3L1144.2,310.7L1149.8,310.7L1151,311.3L1153.2,311.3L1154.3,312.7L1155.4,313.3L1156.6,314L1170,314L1170,339.5L50,339.5Z" fill="url(#c)"/>
<line x1="49.6" x2="49.6" y1="79" y2="308.2" stroke="#000" stroke-width="2"/>
<circle cx="49.6" cy="313.2" r="5" fill="#fff" stroke="#64c24c" stroke-width="2.3"/>
<text class="lab" transform="translate(67.75,82) rotate(-90)" text-anchor="end">Courchevel le Praz</text>
<g transform="translate(0.0,0.0)"><circle cx="50" cy="63" r="16.8" fill="#64c24c"/>
<rect x="41" y="51.2" width="2" height="23.8" rx="1" fill="#fff"/>
<path d="M43,53.4C45,54.6 47.5,54.6 49.5,53.5C52,52.2 54,52 58.8,52.1L58.8,65.3C56.5,64.4 54,63.6 51.3,64.3C48.5,65.3 45.5,66.3 43,66.1Z" fill="#fff"/></g>
<line x1="243.6" x2="243.6" y1="79" y2="319.6" stroke="#000" stroke-width="2"/>
<circle cx="243.6" cy="324.6" r="5" fill="#fff" stroke="#f89c0e" stroke-width="2.3"/>
<text class="lab" transform="translate(239.00,82) rotate(-90)" text-anchor="end">Le Reposoir</text>
<g transform="translate(0.05,0.05)"><circle cx="243.85" cy="63.05" r="14.5" fill="#fff" stroke="#f89c0e" stroke-width="4.8"/>
<path d="M244,55.7V64.6L239.4,62.2" fill="none" stroke="#f89c0e" stroke-width="1.8" stroke-linecap="butt" stroke-linejoin="miter"/></g>
<line x1="400.6" x2="400.6" y1="79" y2="263.8" stroke="#000" stroke-width="2"/>
<circle cx="400.6" cy="268.8" r="5" fill="#fff" stroke="#3a87c1" stroke-width="2.3"/>
<text class="lab" transform="translate(396.00,82) rotate(-90)" text-anchor="end">Bec de l'Aigle</text>
<g transform="translate(0.05,0.05)"><circle cx="401.1" cy="63.05" r="16.9" fill="#3a87c1"/>
<path d="M400.3,51.7C400.3,50.9 401.7,50.9 401.7,51.7C402.2,58.3 408.3,63.5 408.3,68.2C408.3,72.2 405,75 401,75C397,75 393.7,72.2 393.7,68.2C393.7,63.5 399.8,58.3 400.3,51.7Z" fill="#fff"/>
<path d="M399.8,61.1C399.7,64.8 399.1,67 398.7,69.3C398.3,70.7 396,70.5 395.8,68.5C395.8,65.5 398,63 399.8,61.1Z" fill="#3a87c1"/></g>
<line x1="701.6" x2="701.6" y1="79" y2="223.9" stroke="#000" stroke-width="2"/>
<circle cx="701.6" cy="228.9" r="5" fill="#fff" stroke="#f89c0e" stroke-width="2.3"/>
<text class="lab" transform="translate(697.00,82) rotate(-90)" text-anchor="end">Col de la Chal</text>
<g transform="translate(301.05,0.05)"><circle cx="401.1" cy="63.05" r="16.9" fill="#3a87c1"/>
<path d="M400.3,51.7C400.3,50.9 401.7,50.9 401.7,51.7C402.2,58.3 408.3,63.5 408.3,68.2C408.3,72.2 405,75 401,75C397,75 393.7,72.2 393.7,68.2C393.7,63.5 399.8,58.3 400.3,51.7Z" fill="#fff"/>
<path d="M399.8,61.1C399.7,64.8 399.1,67 398.7,69.3C398.3,70.7 396,70.5 395.8,68.5C395.8,65.5 398,63 399.8,61.1Z" fill="#3a87c1"/></g>
<line x1="861.6" x2="861.6" y1="79" y2="281.2" stroke="#000" stroke-width="2"/>
<circle cx="861.6" cy="286.2" r="5" fill="#fff" stroke="#3a87c1" stroke-width="2.3"/>
<text class="lab" transform="translate(857.00,82) rotate(-90)" text-anchor="end">Lac de la Rosière</text>
<g transform="translate(461.05,0.05)"><circle cx="401.1" cy="63.05" r="16.9" fill="#3a87c1"/>
<path d="M400.3,51.7C400.3,50.9 401.7,50.9 401.7,51.7C402.2,58.3 408.3,63.5 408.3,68.2C408.3,72.2 405,75 401,75C397,75 393.7,72.2 393.7,68.2C393.7,63.5 399.8,58.3 400.3,51.7Z" fill="#fff"/>
<path d="M399.8,61.1C399.7,64.8 399.1,67 398.7,69.3C398.3,70.7 396,70.5 395.8,68.5C395.8,65.5 398,63 399.8,61.1Z" fill="#3a87c1"/></g>
<line x1="1169.6" x2="1169.6" y1="79" y2="308.2" stroke="#000" stroke-width="2"/>
<circle cx="1169.6" cy="313.2" r="5" fill="#fff" stroke="#ff0000" stroke-width="2.3"/>
<text class="lab" transform="translate(1165.00,82) rotate(-90)" text-anchor="end">Courchevel le Praz</text>
<g transform="translate(1120.0,0.0)"><circle cx="50" cy="63" r="16.8" fill="#ff0000"/>
<rect x="41" y="51.2" width="2" height="23.8" rx="1" fill="#fff"/>
<path d="M43,53.4C45,54.6 47.5,54.6 49.5,53.5C52,52.2 54,52 58.8,52.1L58.8,65.3C56.5,64.4 54,63.6 51.3,64.3C48.5,65.3 45.5,66.3 43,66.1Z" fill="#fff"/></g>
<g transform="translate(458.10,-33.60)"><circle cx="243.85" cy="63.05" r="14.5" fill="#fff" stroke="#f89c0e" stroke-width="4.8"/>
<path d="M244,55.7V64.6L239.4,62.2" fill="none" stroke="#f89c0e" stroke-width="1.8" stroke-linecap="butt" stroke-linejoin="miter"/></g>
<text class="lab" fill="#555" transform="translate(1187.75,135.8) rotate(-90)" text-anchor="end" style="fill:#555">©TraceDeTrail.fr</text>

<line x1="50" x2="1170" y1="369.4" y2="369.4" stroke="#000" stroke-width="1"/>
<circle cx="49.9" cy="369.4" r="5" fill="#2e5777"/>
<circle cx="243.8" cy="369.4" r="5" fill="#2e5777"/>
<circle cx="400.8" cy="369.4" r="5" fill="#2e5777"/>
<circle cx="701.8" cy="369.4" r="5" fill="#2e5777"/>
<circle cx="861.8" cy="369.4" r="5" fill="#2e5777"/>
<circle cx="1169.9" cy="369.4" r="5" fill="#2e5777"/>
<path d="M107.4,369.4L128.0,356.2L166.0,356.2L186.6,369.4L166.0,382.5L128.0,382.5Z" fill="#fff" stroke="#000" stroke-width="1.1"/>
<text class="seg" x="147" y="367.8">3.9 km</text><text class="seg" x="147" y="380.8">90 m+</text>
<path d="M281.0,369.4L301.6,356.2L343.2,356.2L363.8,369.4L343.2,382.5L301.6,382.5Z" fill="#fff" stroke="#000" stroke-width="1.1"/>
<text class="seg" x="322.4" y="367.8">3.2 km</text><text class="seg" x="322.4" y="380.8">530 m+</text>
<path d="M510.3,369.4L530.9,356.2L572.5,356.2L593.1,369.4L572.5,382.5L530.9,382.5Z" fill="#fff" stroke="#000" stroke-width="1.1"/>
<text class="seg" x="551.7" y="367.8">6.1 km</text><text class="seg" x="551.7" y="380.8">630 m+</text>
<path d="M742.6,369.4L763.2,356.2L800.8,356.2L821.4,369.4L800.8,382.5L763.2,382.5Z" fill="#fff" stroke="#000" stroke-width="1.1"/>
<text class="seg" x="782" y="367.8">3.3 km</text><text class="seg" x="782" y="380.8">10 m+</text>
<path d="M974.6,369.4L995.2,356.2L1036.8,356.2L1057.4,369.4L1036.8,382.5L995.2,382.5Z" fill="#fff" stroke="#000" stroke-width="1.1"/>
<text class="seg" x="1016" y="367.8">6.3 km</text><text class="seg" x="1016" y="380.8">310 m+</text>

</svg>
</body></html>
